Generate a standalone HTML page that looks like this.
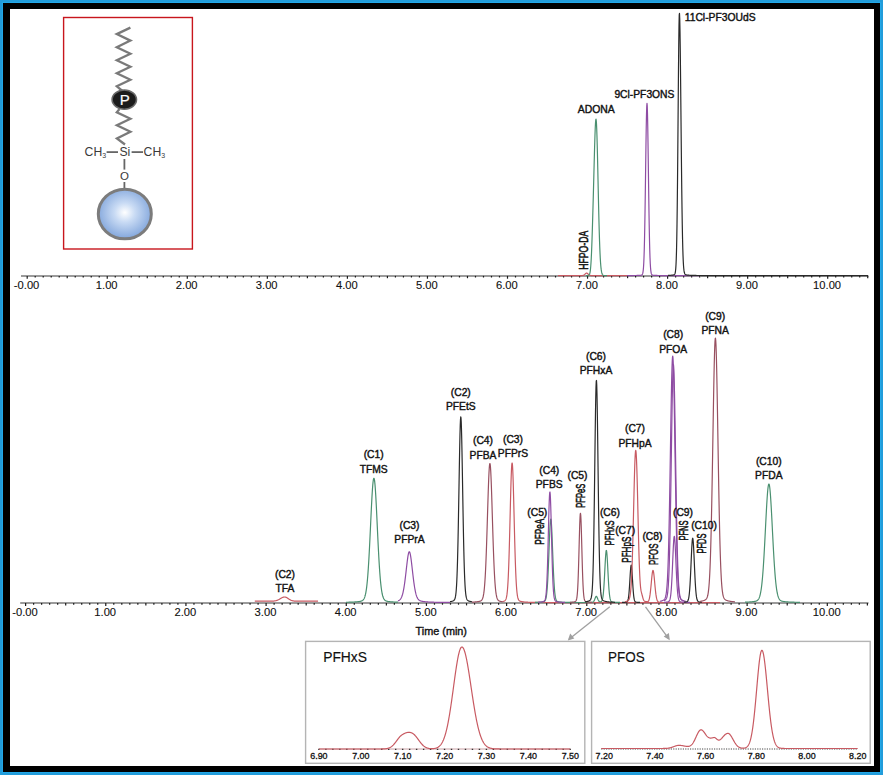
<!DOCTYPE html>
<html><head><meta charset="utf-8"><style>
html,body{margin:0;padding:0;}
body{width:883px;height:775px;position:relative;overflow:hidden;background:#229cda;font-family:"Liberation Sans",sans-serif;}
#hl{position:absolute;left:2px;top:2px;width:879px;height:771px;background:#22a8e8;}
#blk{position:absolute;left:3px;top:3px;width:877px;height:769px;background:#000;}
#wht{position:absolute;left:10px;top:9px;width:864px;height:757px;background:#fff;}
</style></head><body><div id="hl"></div><div id="blk"></div><div id="wht"></div>
<svg width="883" height="775" viewBox="0 0 883 775" style="position:absolute;left:0;top:0" font-family="&quot;Liberation Sans&quot;, sans-serif">
<line x1="21" y1="275.9" x2="868.5" y2="275.9" stroke="#7a7a7a" stroke-width="1.5"/>
<line x1="27.20" y1="275.9" x2="27.20" y2="278.7" stroke="#1a1a1a" stroke-width="1.2"/>
<line x1="35.20" y1="275.9" x2="35.20" y2="277.5" stroke="#1a1a1a" stroke-width="1.2"/>
<line x1="43.21" y1="275.9" x2="43.21" y2="277.5" stroke="#1a1a1a" stroke-width="1.2"/>
<line x1="51.22" y1="275.9" x2="51.22" y2="277.5" stroke="#1a1a1a" stroke-width="1.2"/>
<line x1="59.22" y1="275.9" x2="59.22" y2="277.5" stroke="#1a1a1a" stroke-width="1.2"/>
<line x1="67.22" y1="275.9" x2="67.22" y2="278.2" stroke="#1a1a1a" stroke-width="1.2"/>
<line x1="75.23" y1="275.9" x2="75.23" y2="277.5" stroke="#1a1a1a" stroke-width="1.2"/>
<line x1="83.23" y1="275.9" x2="83.23" y2="277.5" stroke="#1a1a1a" stroke-width="1.2"/>
<line x1="91.24" y1="275.9" x2="91.24" y2="277.5" stroke="#1a1a1a" stroke-width="1.2"/>
<line x1="99.25" y1="275.9" x2="99.25" y2="277.5" stroke="#1a1a1a" stroke-width="1.2"/>
<line x1="107.25" y1="275.9" x2="107.25" y2="278.7" stroke="#1a1a1a" stroke-width="1.2"/>
<line x1="115.26" y1="275.9" x2="115.26" y2="277.5" stroke="#1a1a1a" stroke-width="1.2"/>
<line x1="123.26" y1="275.9" x2="123.26" y2="277.5" stroke="#1a1a1a" stroke-width="1.2"/>
<line x1="131.26" y1="275.9" x2="131.26" y2="277.5" stroke="#1a1a1a" stroke-width="1.2"/>
<line x1="139.27" y1="275.9" x2="139.27" y2="277.5" stroke="#1a1a1a" stroke-width="1.2"/>
<line x1="147.27" y1="275.9" x2="147.27" y2="278.2" stroke="#1a1a1a" stroke-width="1.2"/>
<line x1="155.28" y1="275.9" x2="155.28" y2="277.5" stroke="#1a1a1a" stroke-width="1.2"/>
<line x1="163.28" y1="275.9" x2="163.28" y2="277.5" stroke="#1a1a1a" stroke-width="1.2"/>
<line x1="171.29" y1="275.9" x2="171.29" y2="277.5" stroke="#1a1a1a" stroke-width="1.2"/>
<line x1="179.29" y1="275.9" x2="179.29" y2="277.5" stroke="#1a1a1a" stroke-width="1.2"/>
<line x1="187.30" y1="275.9" x2="187.30" y2="278.7" stroke="#1a1a1a" stroke-width="1.2"/>
<line x1="195.30" y1="275.9" x2="195.30" y2="277.5" stroke="#1a1a1a" stroke-width="1.2"/>
<line x1="203.31" y1="275.9" x2="203.31" y2="277.5" stroke="#1a1a1a" stroke-width="1.2"/>
<line x1="211.31" y1="275.9" x2="211.31" y2="277.5" stroke="#1a1a1a" stroke-width="1.2"/>
<line x1="219.32" y1="275.9" x2="219.32" y2="277.5" stroke="#1a1a1a" stroke-width="1.2"/>
<line x1="227.32" y1="275.9" x2="227.32" y2="278.2" stroke="#1a1a1a" stroke-width="1.2"/>
<line x1="235.33" y1="275.9" x2="235.33" y2="277.5" stroke="#1a1a1a" stroke-width="1.2"/>
<line x1="243.34" y1="275.9" x2="243.34" y2="277.5" stroke="#1a1a1a" stroke-width="1.2"/>
<line x1="251.34" y1="275.9" x2="251.34" y2="277.5" stroke="#1a1a1a" stroke-width="1.2"/>
<line x1="259.35" y1="275.9" x2="259.35" y2="277.5" stroke="#1a1a1a" stroke-width="1.2"/>
<line x1="267.35" y1="275.9" x2="267.35" y2="278.7" stroke="#1a1a1a" stroke-width="1.2"/>
<line x1="275.36" y1="275.9" x2="275.36" y2="277.5" stroke="#1a1a1a" stroke-width="1.2"/>
<line x1="283.36" y1="275.9" x2="283.36" y2="277.5" stroke="#1a1a1a" stroke-width="1.2"/>
<line x1="291.37" y1="275.9" x2="291.37" y2="277.5" stroke="#1a1a1a" stroke-width="1.2"/>
<line x1="299.37" y1="275.9" x2="299.37" y2="277.5" stroke="#1a1a1a" stroke-width="1.2"/>
<line x1="307.38" y1="275.9" x2="307.38" y2="278.2" stroke="#1a1a1a" stroke-width="1.2"/>
<line x1="315.38" y1="275.9" x2="315.38" y2="277.5" stroke="#1a1a1a" stroke-width="1.2"/>
<line x1="323.38" y1="275.9" x2="323.38" y2="277.5" stroke="#1a1a1a" stroke-width="1.2"/>
<line x1="331.39" y1="275.9" x2="331.39" y2="277.5" stroke="#1a1a1a" stroke-width="1.2"/>
<line x1="339.39" y1="275.9" x2="339.39" y2="277.5" stroke="#1a1a1a" stroke-width="1.2"/>
<line x1="347.40" y1="275.9" x2="347.40" y2="278.7" stroke="#1a1a1a" stroke-width="1.2"/>
<line x1="355.41" y1="275.9" x2="355.41" y2="277.5" stroke="#1a1a1a" stroke-width="1.2"/>
<line x1="363.41" y1="275.9" x2="363.41" y2="277.5" stroke="#1a1a1a" stroke-width="1.2"/>
<line x1="371.41" y1="275.9" x2="371.41" y2="277.5" stroke="#1a1a1a" stroke-width="1.2"/>
<line x1="379.42" y1="275.9" x2="379.42" y2="277.5" stroke="#1a1a1a" stroke-width="1.2"/>
<line x1="387.42" y1="275.9" x2="387.42" y2="278.2" stroke="#1a1a1a" stroke-width="1.2"/>
<line x1="395.43" y1="275.9" x2="395.43" y2="277.5" stroke="#1a1a1a" stroke-width="1.2"/>
<line x1="403.44" y1="275.9" x2="403.44" y2="277.5" stroke="#1a1a1a" stroke-width="1.2"/>
<line x1="411.44" y1="275.9" x2="411.44" y2="277.5" stroke="#1a1a1a" stroke-width="1.2"/>
<line x1="419.44" y1="275.9" x2="419.44" y2="277.5" stroke="#1a1a1a" stroke-width="1.2"/>
<line x1="427.45" y1="275.9" x2="427.45" y2="278.7" stroke="#1a1a1a" stroke-width="1.2"/>
<line x1="435.46" y1="275.9" x2="435.46" y2="277.5" stroke="#1a1a1a" stroke-width="1.2"/>
<line x1="443.46" y1="275.9" x2="443.46" y2="277.5" stroke="#1a1a1a" stroke-width="1.2"/>
<line x1="451.47" y1="275.9" x2="451.47" y2="277.5" stroke="#1a1a1a" stroke-width="1.2"/>
<line x1="459.47" y1="275.9" x2="459.47" y2="277.5" stroke="#1a1a1a" stroke-width="1.2"/>
<line x1="467.47" y1="275.9" x2="467.47" y2="278.2" stroke="#1a1a1a" stroke-width="1.2"/>
<line x1="475.48" y1="275.9" x2="475.48" y2="277.5" stroke="#1a1a1a" stroke-width="1.2"/>
<line x1="483.49" y1="275.9" x2="483.49" y2="277.5" stroke="#1a1a1a" stroke-width="1.2"/>
<line x1="491.49" y1="275.9" x2="491.49" y2="277.5" stroke="#1a1a1a" stroke-width="1.2"/>
<line x1="499.50" y1="275.9" x2="499.50" y2="277.5" stroke="#1a1a1a" stroke-width="1.2"/>
<line x1="507.50" y1="275.9" x2="507.50" y2="278.7" stroke="#1a1a1a" stroke-width="1.2"/>
<line x1="515.50" y1="275.9" x2="515.50" y2="277.5" stroke="#1a1a1a" stroke-width="1.2"/>
<line x1="523.51" y1="275.9" x2="523.51" y2="277.5" stroke="#1a1a1a" stroke-width="1.2"/>
<line x1="531.52" y1="275.9" x2="531.52" y2="277.5" stroke="#1a1a1a" stroke-width="1.2"/>
<line x1="539.52" y1="275.9" x2="539.52" y2="277.5" stroke="#1a1a1a" stroke-width="1.2"/>
<line x1="547.52" y1="275.9" x2="547.52" y2="278.2" stroke="#1a1a1a" stroke-width="1.2"/>
<line x1="555.53" y1="275.9" x2="555.53" y2="277.5" stroke="#1a1a1a" stroke-width="1.2"/>
<line x1="563.54" y1="275.9" x2="563.54" y2="277.5" stroke="#1a1a1a" stroke-width="1.2"/>
<line x1="571.54" y1="275.9" x2="571.54" y2="277.5" stroke="#1a1a1a" stroke-width="1.2"/>
<line x1="579.55" y1="275.9" x2="579.55" y2="277.5" stroke="#1a1a1a" stroke-width="1.2"/>
<line x1="587.55" y1="275.9" x2="587.55" y2="278.7" stroke="#1a1a1a" stroke-width="1.2"/>
<line x1="595.56" y1="275.9" x2="595.56" y2="277.5" stroke="#1a1a1a" stroke-width="1.2"/>
<line x1="603.56" y1="275.9" x2="603.56" y2="277.5" stroke="#1a1a1a" stroke-width="1.2"/>
<line x1="611.57" y1="275.9" x2="611.57" y2="277.5" stroke="#1a1a1a" stroke-width="1.2"/>
<line x1="619.57" y1="275.9" x2="619.57" y2="277.5" stroke="#1a1a1a" stroke-width="1.2"/>
<line x1="627.58" y1="275.9" x2="627.58" y2="278.2" stroke="#1a1a1a" stroke-width="1.2"/>
<line x1="635.58" y1="275.9" x2="635.58" y2="277.5" stroke="#1a1a1a" stroke-width="1.2"/>
<line x1="643.59" y1="275.9" x2="643.59" y2="277.5" stroke="#1a1a1a" stroke-width="1.2"/>
<line x1="651.59" y1="275.9" x2="651.59" y2="277.5" stroke="#1a1a1a" stroke-width="1.2"/>
<line x1="659.60" y1="275.9" x2="659.60" y2="277.5" stroke="#1a1a1a" stroke-width="1.2"/>
<line x1="667.60" y1="275.9" x2="667.60" y2="278.7" stroke="#1a1a1a" stroke-width="1.2"/>
<line x1="675.61" y1="275.9" x2="675.61" y2="277.5" stroke="#1a1a1a" stroke-width="1.2"/>
<line x1="683.61" y1="275.9" x2="683.61" y2="277.5" stroke="#1a1a1a" stroke-width="1.2"/>
<line x1="691.62" y1="275.9" x2="691.62" y2="277.5" stroke="#1a1a1a" stroke-width="1.2"/>
<line x1="699.62" y1="275.9" x2="699.62" y2="277.5" stroke="#1a1a1a" stroke-width="1.2"/>
<line x1="707.62" y1="275.9" x2="707.62" y2="278.2" stroke="#1a1a1a" stroke-width="1.2"/>
<line x1="715.63" y1="275.9" x2="715.63" y2="277.5" stroke="#1a1a1a" stroke-width="1.2"/>
<line x1="723.64" y1="275.9" x2="723.64" y2="277.5" stroke="#1a1a1a" stroke-width="1.2"/>
<line x1="731.64" y1="275.9" x2="731.64" y2="277.5" stroke="#1a1a1a" stroke-width="1.2"/>
<line x1="739.65" y1="275.9" x2="739.65" y2="277.5" stroke="#1a1a1a" stroke-width="1.2"/>
<line x1="747.65" y1="275.9" x2="747.65" y2="278.7" stroke="#1a1a1a" stroke-width="1.2"/>
<line x1="755.65" y1="275.9" x2="755.65" y2="277.5" stroke="#1a1a1a" stroke-width="1.2"/>
<line x1="763.66" y1="275.9" x2="763.66" y2="277.5" stroke="#1a1a1a" stroke-width="1.2"/>
<line x1="771.67" y1="275.9" x2="771.67" y2="277.5" stroke="#1a1a1a" stroke-width="1.2"/>
<line x1="779.67" y1="275.9" x2="779.67" y2="277.5" stroke="#1a1a1a" stroke-width="1.2"/>
<line x1="787.68" y1="275.9" x2="787.68" y2="278.2" stroke="#1a1a1a" stroke-width="1.2"/>
<line x1="795.68" y1="275.9" x2="795.68" y2="277.5" stroke="#1a1a1a" stroke-width="1.2"/>
<line x1="803.69" y1="275.9" x2="803.69" y2="277.5" stroke="#1a1a1a" stroke-width="1.2"/>
<line x1="811.69" y1="275.9" x2="811.69" y2="277.5" stroke="#1a1a1a" stroke-width="1.2"/>
<line x1="819.70" y1="275.9" x2="819.70" y2="277.5" stroke="#1a1a1a" stroke-width="1.2"/>
<line x1="827.70" y1="275.9" x2="827.70" y2="278.7" stroke="#1a1a1a" stroke-width="1.2"/>
<line x1="835.71" y1="275.9" x2="835.71" y2="277.5" stroke="#1a1a1a" stroke-width="1.2"/>
<line x1="843.71" y1="275.9" x2="843.71" y2="277.5" stroke="#1a1a1a" stroke-width="1.2"/>
<line x1="851.72" y1="275.9" x2="851.72" y2="277.5" stroke="#1a1a1a" stroke-width="1.2"/>
<line x1="859.72" y1="275.9" x2="859.72" y2="277.5" stroke="#1a1a1a" stroke-width="1.2"/>
<line x1="867.73" y1="275.9" x2="867.73" y2="278.2" stroke="#1a1a1a" stroke-width="1.2"/>
<text x="26.6" y="289.2" font-size="11.2" text-anchor="middle" font-weight="normal" fill="#111" stroke="#111" stroke-width="0.12">-0.00</text>
<text x="106.7" y="289.2" font-size="11.2" text-anchor="middle" font-weight="normal" fill="#111" stroke="#111" stroke-width="0.12">1.00</text>
<text x="186.7" y="289.2" font-size="11.2" text-anchor="middle" font-weight="normal" fill="#111" stroke="#111" stroke-width="0.12">2.00</text>
<text x="266.7" y="289.2" font-size="11.2" text-anchor="middle" font-weight="normal" fill="#111" stroke="#111" stroke-width="0.12">3.00</text>
<text x="346.8" y="289.2" font-size="11.2" text-anchor="middle" font-weight="normal" fill="#111" stroke="#111" stroke-width="0.12">4.00</text>
<text x="426.8" y="289.2" font-size="11.2" text-anchor="middle" font-weight="normal" fill="#111" stroke="#111" stroke-width="0.12">5.00</text>
<text x="506.9" y="289.2" font-size="11.2" text-anchor="middle" font-weight="normal" fill="#111" stroke="#111" stroke-width="0.12">6.00</text>
<text x="587.0" y="289.2" font-size="11.2" text-anchor="middle" font-weight="normal" fill="#111" stroke="#111" stroke-width="0.12">7.00</text>
<text x="667.0" y="289.2" font-size="11.2" text-anchor="middle" font-weight="normal" fill="#111" stroke="#111" stroke-width="0.12">8.00</text>
<text x="747.0" y="289.2" font-size="11.2" text-anchor="middle" font-weight="normal" fill="#111" stroke="#111" stroke-width="0.12">9.00</text>
<text x="827.1" y="289.2" font-size="11.2" text-anchor="middle" font-weight="normal" fill="#111" stroke="#111" stroke-width="0.12">10.00</text>
<path d="M558.00,275.60 L558.25,275.60 L558.50,275.60 L558.75,275.60 L559.00,275.60 L559.25,275.60 L559.50,275.60 L559.75,275.60 L560.00,275.60 L560.25,275.60 L560.50,275.60 L560.75,275.60 L561.00,275.60 L561.25,275.60 L561.50,275.60 L561.75,275.60 L562.00,275.60 L562.25,275.60 L562.50,275.60 L562.75,275.60 L563.00,275.60 L563.25,275.60 L563.50,275.60 L563.75,275.60 L564.00,275.60 L564.25,275.60 L564.50,275.60 L564.75,275.60 L565.00,275.60 L565.25,275.60 L565.50,275.60 L565.75,275.60 L566.00,275.60 L566.25,275.60 L566.50,275.60 L566.75,275.60 L567.00,275.60 L567.25,275.60 L567.50,275.60 L567.75,275.60 L568.00,275.60 L568.25,275.60 L568.50,275.60 L568.75,275.60 L569.00,275.60 L569.25,275.60 L569.50,275.60 L569.75,275.60 L570.00,275.60 L570.25,275.60 L570.50,275.60 L570.75,275.60 L571.00,275.60 L571.25,275.60 L571.50,275.60 L571.75,275.60 L572.00,275.60 L572.25,275.60 L572.50,275.60 L572.75,275.60 L573.00,275.59 L573.25,275.59 L573.50,275.59 L573.75,275.59 L574.00,275.59 L574.25,275.59 L574.50,275.59 L574.75,275.59 L575.00,275.59 L575.25,275.59 L575.50,275.59 L575.75,275.59 L576.00,275.59 L576.25,275.59 L576.50,275.59 L576.75,275.59 L577.00,275.59 L577.25,275.59 L577.50,275.59 L577.75,275.59 L578.00,275.59 L578.25,275.59 L578.50,275.59 L578.75,275.59 L579.00,275.58 L579.25,275.58 L579.50,275.58 L579.75,275.58 L580.00,275.58 L580.25,275.58 L580.50,275.58 L580.75,275.57 L581.00,275.57 L581.25,275.56 L581.50,275.56 L581.75,275.55 L582.00,275.54 L582.25,275.52 L582.50,275.49 L582.75,275.45 L583.00,275.40 L583.25,275.33 L583.50,275.24 L583.75,275.13 L584.00,274.98 L584.25,274.81 L584.50,274.62 L584.75,274.40 L585.00,274.16 L585.25,273.92 L585.50,273.68 L585.75,273.47 L586.00,273.29 L586.25,273.17 L586.50,273.11 L586.75,273.11 L587.00,273.19 L587.25,273.32 L587.50,273.51 L587.75,273.73 L588.00,273.97 L588.25,274.21 L588.50,274.44 L588.75,274.66 L589.00,274.85 L589.25,275.02 L589.50,275.15 L589.75,275.26 L590.00,275.35 L590.25,275.41 L590.50,275.46 L590.75,275.50 L591.00,275.52 L591.25,275.54 L591.50,275.55 L591.75,275.56 L592.00,275.57 L592.25,275.57 L592.50,275.57 L592.75,275.58 L593.00,275.58 L593.25,275.58 L593.50,275.58 L593.75,275.58 L594.00,275.58 L594.25,275.58 L594.50,275.59 L594.75,275.59 L595.00,275.59 L595.25,275.59 L595.50,275.59 L595.75,275.59 L596.00,275.59 L596.25,275.59 L596.50,275.59 L596.75,275.59 L597.00,275.59 L597.25,275.59 L597.50,275.59 L597.75,275.59 L598.00,275.59 L598.25,275.59 L598.50,275.59 L598.75,275.59 L599.00,275.59 L599.25,275.59 L599.50,275.59 L599.75,275.59 L600.00,275.59 L600.25,275.59 L600.50,275.60 L600.75,275.60 L601.00,275.60 L601.25,275.60 L601.50,275.60 L601.75,275.60 L602.00,275.60 L602.25,275.60 L602.50,275.60 L602.75,275.60 L603.00,275.60 L603.25,275.60 L603.50,275.60 L603.75,275.60 L604.00,275.60 L604.25,275.60 L604.50,275.60 L604.75,275.60 L605.00,275.60 L605.25,275.60 L605.50,275.60 L605.75,275.60 L606.00,275.60 L606.25,275.60 L606.50,275.60 L606.75,275.60 L607.00,275.60 L607.25,275.60 L607.50,275.60 L607.75,275.60 L608.00,275.60 L608.25,275.60 L608.50,275.60 L608.75,275.60 L609.00,275.60 L609.25,275.60 L609.50,275.60 L609.75,275.60 L610.00,275.60 L610.25,275.60 L610.50,275.60 L610.75,275.60 L611.00,275.60 L611.25,275.60 L611.50,275.60 L611.75,275.60 L612.00,275.60 L612.25,275.60 L612.50,275.60 L612.75,275.60 L613.00,275.60 L613.25,275.60 L613.50,275.60 L613.75,275.60 L614.00,275.60 L614.25,275.60 L614.50,275.60 L614.75,275.60 L615.00,275.60 L615.25,275.60 L615.50,275.60 L615.75,275.60 L616.00,275.60 L616.25,275.60 L616.50,275.60 L616.75,275.60 L617.00,275.60 L617.25,275.60 L617.50,275.60 L617.75,275.60 L618.00,275.60 L618.25,275.60 L618.50,275.60 L618.75,275.60 L619.00,275.60 L619.25,275.60 L619.50,275.60 L619.75,275.60 L620.00,275.60 L620.25,275.60 L620.50,275.60 L620.75,275.60 L621.00,275.60 L621.25,275.60 L621.50,275.60 L621.75,275.60 L622.00,275.60 L622.25,275.60 L622.50,275.60 L622.75,275.60 L623.00,275.60 L623.25,275.60 L623.50,275.60 L623.75,275.60 L624.00,275.60 L624.25,275.60 L624.50,275.60 L624.75,275.60 L625.00,275.60 L625.25,275.60 L625.50,275.60 L625.75,275.60 L626.00,275.60 L626.25,275.60 L626.50,275.60 L626.75,275.60 L627.00,275.60" fill="none" stroke="#c85a62" stroke-width="1.2" stroke-linejoin="round"/>
<path d="M586.00,275.60 L586.25,275.60 L586.50,275.60 L586.75,275.59 L587.00,275.59 L587.25,275.58 L587.50,275.57 L587.75,275.55 L588.00,275.52 L588.25,275.48 L588.50,275.40 L588.75,275.27 L589.00,275.07 L589.25,274.77 L589.50,274.29 L589.75,273.59 L590.00,272.55 L590.25,271.08 L590.50,269.04 L590.75,266.32 L591.00,262.81 L591.25,258.43 L591.50,253.16 L591.75,247.02 L592.00,240.09 L592.25,232.50 L592.50,224.38 L592.75,215.85 L593.00,207.01 L593.25,197.92 L593.50,188.61 L593.75,179.14 L594.00,169.59 L594.25,160.08 L594.50,150.85 L594.75,142.17 L595.00,134.40 L595.25,127.89 L595.50,123.01 L595.75,120.03 L596.00,119.17 L596.25,120.53 L596.50,124.10 L596.75,129.75 L597.00,137.26 L597.25,146.33 L597.50,156.60 L597.75,167.68 L598.00,179.20 L598.25,190.77 L598.50,202.07 L598.75,212.81 L599.00,222.78 L599.25,231.84 L599.50,239.88 L599.75,246.88 L600.00,252.85 L600.25,257.85 L600.50,261.96 L600.75,265.27 L601.00,267.90 L601.25,269.94 L601.50,271.51 L601.75,272.68 L602.00,273.55 L602.25,274.18 L602.50,274.63 L602.75,274.95 L603.00,275.17 L603.25,275.32 L603.50,275.42 L603.75,275.49 L604.00,275.53 L604.25,275.56 L604.50,275.57 L604.75,275.58 L605.00,275.59 L605.25,275.59 L605.50,275.60 L605.75,275.60 L606.00,275.60 L606.25,275.60 L606.50,275.60 L606.75,275.60 L607.00,275.60" fill="none" stroke="#4a9070" stroke-width="1.2" stroke-linejoin="round"/>
<path d="M627.00,275.57 L627.25,275.56 L627.50,275.56 L627.75,275.56 L628.00,275.56 L628.25,275.56 L628.50,275.56 L628.75,275.56 L629.00,275.56 L629.25,275.56 L629.50,275.55 L629.75,275.55 L630.00,275.55 L630.25,275.55 L630.50,275.55 L630.75,275.55 L631.00,275.55 L631.25,275.54 L631.50,275.54 L631.75,275.54 L632.00,275.54 L632.25,275.54 L632.50,275.53 L632.75,275.53 L633.00,275.53 L633.25,275.53 L633.50,275.52 L633.75,275.52 L634.00,275.52 L634.25,275.51 L634.50,275.51 L634.75,275.51 L635.00,275.50 L635.25,275.50 L635.50,275.50 L635.75,275.49 L636.00,275.49 L636.25,275.48 L636.50,275.48 L636.75,275.47 L637.00,275.46 L637.25,275.46 L637.50,275.45 L637.75,275.44 L638.00,275.43 L638.25,275.42 L638.50,275.41 L638.75,275.40 L639.00,275.39 L639.25,275.38 L639.50,275.36 L639.75,275.35 L640.00,275.33 L640.25,275.31 L640.50,275.28 L640.75,275.26 L641.00,275.22 L641.25,275.17 L641.50,275.10 L641.75,274.99 L642.00,274.81 L642.25,274.51 L642.50,274.02 L642.75,273.24 L643.00,272.01 L643.25,270.11 L643.50,267.28 L643.75,263.19 L644.00,257.51 L644.25,249.88 L644.50,240.01 L644.75,227.76 L645.00,213.18 L645.25,196.58 L645.50,178.58 L645.75,160.11 L646.00,142.33 L646.25,126.57 L646.50,114.13 L646.75,106.15 L647.00,103.40 L647.25,106.15 L647.50,114.13 L647.75,126.57 L648.00,142.33 L648.25,160.11 L648.50,178.58 L648.75,196.58 L649.00,213.18 L649.25,227.76 L649.50,240.01 L649.75,249.88 L650.00,257.51 L650.25,263.19 L650.50,267.28 L650.75,270.11 L651.00,272.01 L651.25,273.24 L651.50,274.02 L651.75,274.51 L652.00,274.81 L652.25,274.99 L652.50,275.10 L652.75,275.17 L653.00,275.22 L653.25,275.26 L653.50,275.28 L653.75,275.31 L654.00,275.33 L654.25,275.35 L654.50,275.36 L654.75,275.38 L655.00,275.39 L655.25,275.40 L655.50,275.41 L655.75,275.42 L656.00,275.43 L656.25,275.44 L656.50,275.45 L656.75,275.46 L657.00,275.46 L657.25,275.47 L657.50,275.48 L657.75,275.48 L658.00,275.49 L658.25,275.49 L658.50,275.50 L658.75,275.50 L659.00,275.50 L659.25,275.51 L659.50,275.51 L659.75,275.51 L660.00,275.52 L660.25,275.52 L660.50,275.52 L660.75,275.53 L661.00,275.53 L661.25,275.53 L661.50,275.53 L661.75,275.54 L662.00,275.54 L662.25,275.54 L662.50,275.54 L662.75,275.54 L663.00,275.55 L663.25,275.55 L663.50,275.55 L663.75,275.55 L664.00,275.55 L664.25,275.55 L664.50,275.55 L664.75,275.56 L665.00,275.56 L665.25,275.56 L665.50,275.56 L665.75,275.56 L666.00,275.56 L666.25,275.56 L666.50,275.56 L666.75,275.56 L667.00,275.57 L667.25,275.57 L667.50,275.57 L667.75,275.57 L668.00,275.57 L668.25,275.57 L668.50,275.57 L668.75,275.57 L669.00,275.57 L669.25,275.57 L669.50,275.57 L669.75,275.57 L670.00,275.57 L670.25,275.57 L670.50,275.57 L670.75,275.58 L671.00,275.58 L671.25,275.58 L671.50,275.58 L671.75,275.58 L672.00,275.58 L672.25,275.58 L672.50,275.58 L672.75,275.58 L673.00,275.58 L673.25,275.58 L673.50,275.58 L673.75,275.58 L674.00,275.58 L674.25,275.58 L674.50,275.58 L674.75,275.58 L675.00,275.58 L675.25,275.58 L675.50,275.58 L675.75,275.58 L676.00,275.58 L676.25,275.58 L676.50,275.58 L676.75,275.58 L677.00,275.58 L677.25,275.58 L677.50,275.58 L677.75,275.59 L678.00,275.59 L678.25,275.59 L678.50,275.59 L678.75,275.59 L679.00,275.59 L679.25,275.59 L679.50,275.59 L679.75,275.59 L680.00,275.59 L680.25,275.59 L680.50,275.59 L680.75,275.59 L681.00,275.59 L681.25,275.59 L681.50,275.59 L681.75,275.59 L682.00,275.59 L682.25,275.59 L682.50,275.59 L682.75,275.59 L683.00,275.59 L683.25,275.59 L683.50,275.59 L683.75,275.59 L684.00,275.59 L684.25,275.59 L684.50,275.59 L684.75,275.59 L685.00,275.59 L685.25,275.59 L685.50,275.59 L685.75,275.59 L686.00,275.59 L686.25,275.59 L686.50,275.59 L686.75,275.59 L687.00,275.59 L687.25,275.59 L687.50,275.59 L687.75,275.59 L688.00,275.59 L688.25,275.59 L688.50,275.59 L688.75,275.59 L689.00,275.59 L689.25,275.59 L689.50,275.59 L689.75,275.59 L690.00,275.59 L690.25,275.59 L690.50,275.59 L690.75,275.59 L691.00,275.59 L691.25,275.59 L691.50,275.59 L691.75,275.59 L692.00,275.59 L692.25,275.59 L692.50,275.59 L692.75,275.59 L693.00,275.59 L693.25,275.59 L693.50,275.59 L693.75,275.59 L694.00,275.59 L694.25,275.59 L694.50,275.59 L694.75,275.59 L695.00,275.59 L695.25,275.59 L695.50,275.59 L695.75,275.59 L696.00,275.59 L696.25,275.59 L696.50,275.59 L696.75,275.59 L697.00,275.59 L697.25,275.59 L697.50,275.59 L697.75,275.59 L698.00,275.59 L698.25,275.59 L698.50,275.59 L698.75,275.59 L699.00,275.59 L699.25,275.59 L699.50,275.59 L699.75,275.59 L700.00,275.59" fill="none" stroke="#8e4ca3" stroke-width="1.2" stroke-linejoin="round"/>
<path d="M668.00,275.41 L668.25,275.40 L668.50,275.39 L668.75,275.38 L669.00,275.37 L669.25,275.36 L669.50,275.35 L669.75,275.34 L670.00,275.32 L670.25,275.31 L670.50,275.29 L670.75,275.27 L671.00,275.25 L671.25,275.23 L671.50,275.21 L671.75,275.19 L672.00,275.16 L672.25,275.13 L672.50,275.09 L672.75,275.06 L673.00,275.02 L673.25,274.97 L673.50,274.91 L673.75,274.84 L674.00,274.74 L674.25,274.61 L674.50,274.40 L674.75,274.06 L675.00,273.49 L675.25,272.56 L675.50,271.03 L675.75,268.59 L676.00,264.81 L676.25,259.15 L676.50,250.98 L676.75,239.67 L677.00,224.64 L677.25,205.55 L677.50,182.40 L677.75,155.70 L678.00,126.55 L678.25,96.63 L678.50,68.11 L678.75,43.41 L679.00,24.93 L679.25,14.63 L679.50,13.44 L679.75,19.44 L680.00,31.63 L680.25,49.06 L680.50,70.46 L680.75,94.39 L681.00,119.43 L681.25,144.25 L681.50,167.77 L681.75,189.17 L682.00,207.93 L682.25,223.81 L682.50,236.83 L682.75,247.16 L683.00,255.13 L683.25,261.10 L683.50,265.44 L683.75,268.53 L684.00,270.67 L684.25,272.11 L684.50,273.08 L684.75,273.71 L685.00,274.13 L685.25,274.40 L685.50,274.58 L685.75,274.71 L686.00,274.80 L686.25,274.87 L686.50,274.92 L686.75,274.97 L687.00,275.01 L687.25,275.05 L687.50,275.08 L687.75,275.11 L688.00,275.14 L688.25,275.16 L688.50,275.18 L688.75,275.20 L689.00,275.22 L689.25,275.24 L689.50,275.26 L689.75,275.27 L690.00,275.29 L690.25,275.30 L690.50,275.32 L690.75,275.33 L691.00,275.34 L691.25,275.35 L691.50,275.36 L691.75,275.37 L692.00,275.38 L692.25,275.39 L692.50,275.39 L692.75,275.40 L693.00,275.41 L693.25,275.42 L693.50,275.42 L693.75,275.43 L694.00,275.43 L694.25,275.44 L694.50,275.44 L694.75,275.45 L695.00,275.45 L695.25,275.46 L695.50,275.46 L695.75,275.47 L696.00,275.47 L696.25,275.47 L696.50,275.48 L696.75,275.48 L697.00,275.49 L697.25,275.49 L697.50,275.49 L697.75,275.49 L698.00,275.50 L698.25,275.50 L698.50,275.50 L698.75,275.50 L699.00,275.51 L699.25,275.51 L699.50,275.51 L699.75,275.51 L700.00,275.52 L700.25,275.52 L700.50,275.52 L700.75,275.52 L701.00,275.52 L701.25,275.53 L701.50,275.53 L701.75,275.53 L702.00,275.53 L702.25,275.53 L702.50,275.53 L702.75,275.53 L703.00,275.54 L703.25,275.54 L703.50,275.54 L703.75,275.54 L704.00,275.54 L704.25,275.54 L704.50,275.54 L704.75,275.54 L705.00,275.55 L705.25,275.55 L705.50,275.55 L705.75,275.55 L706.00,275.55 L706.25,275.55 L706.50,275.55 L706.75,275.55 L707.00,275.55 L707.25,275.55 L707.50,275.55 L707.75,275.56 L708.00,275.56 L708.25,275.56 L708.50,275.56 L708.75,275.56 L709.00,275.56 L709.25,275.56 L709.50,275.56 L709.75,275.56 L710.00,275.56 L710.25,275.56 L710.50,275.56 L710.75,275.56 L711.00,275.56 L711.25,275.56 L711.50,275.57 L711.75,275.57 L712.00,275.57 L712.25,275.57 L712.50,275.57 L712.75,275.57 L713.00,275.57 L713.25,275.57 L713.50,275.57 L713.75,275.57 L714.00,275.57 L714.25,275.57 L714.50,275.57 L714.75,275.57 L715.00,275.57 L715.25,275.57 L715.50,275.57 L715.75,275.57 L716.00,275.57 L716.25,275.57 L716.50,275.57 L716.75,275.57 L717.00,275.57 L717.25,275.57 L717.50,275.58 L717.75,275.58 L718.00,275.58 L718.25,275.58 L718.50,275.58 L718.75,275.58 L719.00,275.58 L719.25,275.58 L719.50,275.58 L719.75,275.58 L720.00,275.58 L720.25,275.58 L720.50,275.58 L720.75,275.58 L721.00,275.58 L721.25,275.58 L721.50,275.58 L721.75,275.58 L722.00,275.58 L722.25,275.58 L722.50,275.58 L722.75,275.58 L723.00,275.58 L723.25,275.58 L723.50,275.58 L723.75,275.58 L724.00,275.58 L724.25,275.58 L724.50,275.58 L724.75,275.58 L725.00,275.58 L725.25,275.58 L725.50,275.58 L725.75,275.58 L726.00,275.58 L726.25,275.58 L726.50,275.58 L726.75,275.58 L727.00,275.58 L727.25,275.58 L727.50,275.58 L727.75,275.58 L728.00,275.58 L728.25,275.58 L728.50,275.59 L728.75,275.59 L729.00,275.59 L729.25,275.59 L729.50,275.59 L729.75,275.59 L730.00,275.59 L730.25,275.59 L730.50,275.59 L730.75,275.59 L731.00,275.59 L731.25,275.59 L731.50,275.59 L731.75,275.59 L732.00,275.59 L732.25,275.59 L732.50,275.59 L732.75,275.59 L733.00,275.59 L733.25,275.59 L733.50,275.59 L733.75,275.59 L734.00,275.59 L734.25,275.59 L734.50,275.59 L734.75,275.59 L735.00,275.59 L735.25,275.59 L735.50,275.59 L735.75,275.59 L736.00,275.59 L736.25,275.59 L736.50,275.59 L736.75,275.59 L737.00,275.59 L737.25,275.59 L737.50,275.59 L737.75,275.59 L738.00,275.59 L738.25,275.59 L738.50,275.59 L738.75,275.59 L739.00,275.59 L739.25,275.59 L739.50,275.59 L739.75,275.59 L740.00,275.59 L740.25,275.59 L740.50,275.59 L740.75,275.59 L741.00,275.59 L741.25,275.59 L741.50,275.59 L741.75,275.59 L742.00,275.59 L742.25,275.59 L742.50,275.59 L742.75,275.59 L743.00,275.59 L743.25,275.59 L743.50,275.59 L743.75,275.59 L744.00,275.59 L744.25,275.59 L744.50,275.59 L744.75,275.59 L745.00,275.59 L745.25,275.59 L745.50,275.59 L745.75,275.59 L746.00,275.59 L746.25,275.59 L746.50,275.59 L746.75,275.59 L747.00,275.59 L747.25,275.59 L747.50,275.59 L747.75,275.59 L748.00,275.59 L748.25,275.59 L748.50,275.59 L748.75,275.59 L749.00,275.59 L749.25,275.59 L749.50,275.59 L749.75,275.59 L750.00,275.59 L750.25,275.59 L750.50,275.59 L750.75,275.59 L751.00,275.59 L751.25,275.59 L751.50,275.59 L751.75,275.59 L752.00,275.59 L752.25,275.59 L752.50,275.59 L752.75,275.59 L753.00,275.59 L753.25,275.59 L753.50,275.59 L753.75,275.59 L754.00,275.59 L754.25,275.59 L754.50,275.59 L754.75,275.59 L755.00,275.59 L755.25,275.59 L755.50,275.59 L755.75,275.59 L756.00,275.59 L756.25,275.59 L756.50,275.59 L756.75,275.59 L757.00,275.59 L757.25,275.59 L757.50,275.59 L757.75,275.59 L758.00,275.59 L758.25,275.59 L758.50,275.59 L758.75,275.59 L759.00,275.59 L759.25,275.59 L759.50,275.59 L759.75,275.59 L760.00,275.59 L760.25,275.59 L760.50,275.59 L760.75,275.59 L761.00,275.59 L761.25,275.59 L761.50,275.59 L761.75,275.59 L762.00,275.59 L762.25,275.59 L762.50,275.59 L762.75,275.59 L763.00,275.59 L763.25,275.59 L763.50,275.59 L763.75,275.59 L764.00,275.59 L764.25,275.60 L764.50,275.60 L764.75,275.60 L765.00,275.60 L765.25,275.60 L765.50,275.60 L765.75,275.60 L766.00,275.60 L766.25,275.60 L766.50,275.60 L766.75,275.60 L767.00,275.60 L767.25,275.60 L767.50,275.60 L767.75,275.60 L768.00,275.60 L768.25,275.60 L768.50,275.60 L768.75,275.60 L769.00,275.60 L769.25,275.60 L769.50,275.60 L769.75,275.60 L770.00,275.60 L770.25,275.60 L770.50,275.60 L770.75,275.60 L771.00,275.60 L771.25,275.60 L771.50,275.60 L771.75,275.60 L772.00,275.60 L772.25,275.60 L772.50,275.60 L772.75,275.60 L773.00,275.60 L773.25,275.60 L773.50,275.60 L773.75,275.60 L774.00,275.60 L774.25,275.60 L774.50,275.60 L774.75,275.60 L775.00,275.60 L775.25,275.60 L775.50,275.60 L775.75,275.60 L776.00,275.60 L776.25,275.60 L776.50,275.60 L776.75,275.60 L777.00,275.60 L777.25,275.60 L777.50,275.60 L777.75,275.60 L778.00,275.60 L778.25,275.60 L778.50,275.60 L778.75,275.60 L779.00,275.60 L779.25,275.60 L779.50,275.60 L779.75,275.60 L780.00,275.60 L780.25,275.60 L780.50,275.60 L780.75,275.60 L781.00,275.60 L781.25,275.60 L781.50,275.60 L781.75,275.60 L782.00,275.60 L782.25,275.60 L782.50,275.60 L782.75,275.60 L783.00,275.60 L783.25,275.60 L783.50,275.60 L783.75,275.60 L784.00,275.60 L784.25,275.60 L784.50,275.60 L784.75,275.60 L785.00,275.60 L785.25,275.60 L785.50,275.60 L785.75,275.60 L786.00,275.60 L786.25,275.60 L786.50,275.60 L786.75,275.60 L787.00,275.60 L787.25,275.60 L787.50,275.60 L787.75,275.60 L788.00,275.60 L788.25,275.60 L788.50,275.60 L788.75,275.60 L789.00,275.60 L789.25,275.60 L789.50,275.60 L789.75,275.60 L790.00,275.60 L790.25,275.60 L790.50,275.60 L790.75,275.60 L791.00,275.60 L791.25,275.60 L791.50,275.60 L791.75,275.60 L792.00,275.60 L792.25,275.60 L792.50,275.60 L792.75,275.60 L793.00,275.60 L793.25,275.60 L793.50,275.60 L793.75,275.60 L794.00,275.60 L794.25,275.60 L794.50,275.60 L794.75,275.60 L795.00,275.60 L795.25,275.60 L795.50,275.60 L795.75,275.60 L796.00,275.60 L796.25,275.60 L796.50,275.60 L796.75,275.60 L797.00,275.60 L797.25,275.60 L797.50,275.60 L797.75,275.60 L798.00,275.60 L798.25,275.60 L798.50,275.60 L798.75,275.60 L799.00,275.60 L799.25,275.60 L799.50,275.60 L799.75,275.60 L800.00,275.60 L800.25,275.60 L800.50,275.60 L800.75,275.60 L801.00,275.60 L801.25,275.60 L801.50,275.60 L801.75,275.60 L802.00,275.60 L802.25,275.60 L802.50,275.60 L802.75,275.60 L803.00,275.60 L803.25,275.60 L803.50,275.60 L803.75,275.60 L804.00,275.60 L804.25,275.60 L804.50,275.60 L804.75,275.60 L805.00,275.60 L805.25,275.60 L805.50,275.60 L805.75,275.60 L806.00,275.60 L806.25,275.60 L806.50,275.60 L806.75,275.60 L807.00,275.60 L807.25,275.60 L807.50,275.60 L807.75,275.60 L808.00,275.60 L808.25,275.60 L808.50,275.60 L808.75,275.60 L809.00,275.60 L809.25,275.60 L809.50,275.60 L809.75,275.60 L810.00,275.60 L810.25,275.60 L810.50,275.60 L810.75,275.60 L811.00,275.60 L811.25,275.60 L811.50,275.60 L811.75,275.60 L812.00,275.60 L812.25,275.60 L812.50,275.60 L812.75,275.60 L813.00,275.60 L813.25,275.60 L813.50,275.60 L813.75,275.60 L814.00,275.60 L814.25,275.60 L814.50,275.60 L814.75,275.60 L815.00,275.60 L815.25,275.60 L815.50,275.60 L815.75,275.60 L816.00,275.60 L816.25,275.60 L816.50,275.60 L816.75,275.60 L817.00,275.60 L817.25,275.60 L817.50,275.60 L817.75,275.60 L818.00,275.60 L818.25,275.60 L818.50,275.60 L818.75,275.60 L819.00,275.60 L819.25,275.60 L819.50,275.60 L819.75,275.60 L820.00,275.60 L820.25,275.60 L820.50,275.60 L820.75,275.60 L821.00,275.60 L821.25,275.60 L821.50,275.60 L821.75,275.60 L822.00,275.60 L822.25,275.60 L822.50,275.60 L822.75,275.60 L823.00,275.60 L823.25,275.60 L823.50,275.60 L823.75,275.60 L824.00,275.60 L824.25,275.60 L824.50,275.60 L824.75,275.60 L825.00,275.60 L825.25,275.60 L825.50,275.60 L825.75,275.60 L826.00,275.60 L826.25,275.60 L826.50,275.60 L826.75,275.60 L827.00,275.60 L827.25,275.60 L827.50,275.60 L827.75,275.60 L828.00,275.60 L828.25,275.60 L828.50,275.60 L828.75,275.60 L829.00,275.60 L829.25,275.60 L829.50,275.60 L829.75,275.60 L830.00,275.60 L830.25,275.60 L830.50,275.60 L830.75,275.60 L831.00,275.60 L831.25,275.60 L831.50,275.60 L831.75,275.60 L832.00,275.60 L832.25,275.60 L832.50,275.60 L832.75,275.60 L833.00,275.60 L833.25,275.60 L833.50,275.60 L833.75,275.60 L834.00,275.60 L834.25,275.60 L834.50,275.60 L834.75,275.60 L835.00,275.60 L835.25,275.60 L835.50,275.60 L835.75,275.60 L836.00,275.60 L836.25,275.60 L836.50,275.60 L836.75,275.60 L837.00,275.60 L837.25,275.60 L837.50,275.60 L837.75,275.60 L838.00,275.60 L838.25,275.60 L838.50,275.60 L838.75,275.60 L839.00,275.60 L839.25,275.60 L839.50,275.60 L839.75,275.60 L840.00,275.60 L840.25,275.60 L840.50,275.60 L840.75,275.60 L841.00,275.60 L841.25,275.60 L841.50,275.60 L841.75,275.60 L842.00,275.60 L842.25,275.60 L842.50,275.60 L842.75,275.60 L843.00,275.60 L843.25,275.60 L843.50,275.60 L843.75,275.60 L844.00,275.60 L844.25,275.60 L844.50,275.60 L844.75,275.60 L845.00,275.60 L845.25,275.60 L845.50,275.60 L845.75,275.60 L846.00,275.60 L846.25,275.60 L846.50,275.60 L846.75,275.60 L847.00,275.60 L847.25,275.60 L847.50,275.60 L847.75,275.60 L848.00,275.60 L848.25,275.60 L848.50,275.60 L848.75,275.60 L849.00,275.60 L849.25,275.60 L849.50,275.60 L849.75,275.60 L850.00,275.60 L850.25,275.60 L850.50,275.60 L850.75,275.60 L851.00,275.60 L851.25,275.60 L851.50,275.60 L851.75,275.60 L852.00,275.60 L852.25,275.60 L852.50,275.60 L852.75,275.60 L853.00,275.60 L853.25,275.60 L853.50,275.60 L853.75,275.60 L854.00,275.60 L854.25,275.60 L854.50,275.60 L854.75,275.60 L855.00,275.60 L855.25,275.60 L855.50,275.60 L855.75,275.60 L856.00,275.60 L856.25,275.60 L856.50,275.60 L856.75,275.60 L857.00,275.60 L857.25,275.60 L857.50,275.60 L857.75,275.60 L858.00,275.60 L858.25,275.60 L858.50,275.60 L858.75,275.60 L859.00,275.60 L859.25,275.60 L859.50,275.60 L859.75,275.60 L860.00,275.60 L860.25,275.60 L860.50,275.60 L860.75,275.60 L861.00,275.60 L861.25,275.60 L861.50,275.60 L861.75,275.60 L862.00,275.60 L862.25,275.60 L862.50,275.60 L862.75,275.60 L863.00,275.60 L863.25,275.60 L863.50,275.60 L863.75,275.60 L864.00,275.60 L864.25,275.60 L864.50,275.60 L864.75,275.60 L865.00,275.60 L865.25,275.60 L865.50,275.60 L865.75,275.60 L866.00,275.60 L866.25,275.60 L866.50,275.60 L866.75,275.60 L867.00,275.60 L867.25,275.60 L867.50,275.60 L867.75,275.60 L868.00,275.60" fill="none" stroke="#2a2a2a" stroke-width="1.2" stroke-linejoin="round"/>
<text x="596.2" y="113.3" font-size="10.3" text-anchor="middle" font-weight="normal" fill="#111" textLength="37" lengthAdjust="spacingAndGlyphs" stroke="#111" stroke-width="0.4">ADONA</text>
<text x="644.4" y="98.4" font-size="10.3" text-anchor="middle" font-weight="normal" fill="#111" textLength="60" lengthAdjust="spacingAndGlyphs" stroke="#111" stroke-width="0.4">9Cl-PF3ONS</text>
<text x="684.7" y="20.6" font-size="10.3" text-anchor="start" font-weight="normal" fill="#111" textLength="71" lengthAdjust="spacingAndGlyphs" stroke="#111" stroke-width="0.4">11Cl-PF3OUdS</text>
<text transform="translate(587.9,269.8) rotate(-90)" font-size="12.8" text-anchor="start" font-weight="normal" fill="#111" textLength="39" lengthAdjust="spacingAndGlyphs" stroke="#111" stroke-width="0.55">HFPO-DA</text>
<line x1="20.2" y1="603.1" x2="868.5" y2="603.1" stroke="#7a7a7a" stroke-width="1.5"/>
<line x1="25.60" y1="603.1" x2="25.60" y2="605.9" stroke="#1a1a1a" stroke-width="1.2"/>
<line x1="33.62" y1="603.1" x2="33.62" y2="604.7" stroke="#1a1a1a" stroke-width="1.2"/>
<line x1="41.63" y1="603.1" x2="41.63" y2="604.7" stroke="#1a1a1a" stroke-width="1.2"/>
<line x1="49.65" y1="603.1" x2="49.65" y2="604.7" stroke="#1a1a1a" stroke-width="1.2"/>
<line x1="57.67" y1="603.1" x2="57.67" y2="604.7" stroke="#1a1a1a" stroke-width="1.2"/>
<line x1="65.69" y1="603.1" x2="65.69" y2="605.4" stroke="#1a1a1a" stroke-width="1.2"/>
<line x1="73.70" y1="603.1" x2="73.70" y2="604.7" stroke="#1a1a1a" stroke-width="1.2"/>
<line x1="81.72" y1="603.1" x2="81.72" y2="604.7" stroke="#1a1a1a" stroke-width="1.2"/>
<line x1="89.74" y1="603.1" x2="89.74" y2="604.7" stroke="#1a1a1a" stroke-width="1.2"/>
<line x1="97.75" y1="603.1" x2="97.75" y2="604.7" stroke="#1a1a1a" stroke-width="1.2"/>
<line x1="105.77" y1="603.1" x2="105.77" y2="605.9" stroke="#1a1a1a" stroke-width="1.2"/>
<line x1="113.79" y1="603.1" x2="113.79" y2="604.7" stroke="#1a1a1a" stroke-width="1.2"/>
<line x1="121.80" y1="603.1" x2="121.80" y2="604.7" stroke="#1a1a1a" stroke-width="1.2"/>
<line x1="129.82" y1="603.1" x2="129.82" y2="604.7" stroke="#1a1a1a" stroke-width="1.2"/>
<line x1="137.84" y1="603.1" x2="137.84" y2="604.7" stroke="#1a1a1a" stroke-width="1.2"/>
<line x1="145.85" y1="603.1" x2="145.85" y2="605.4" stroke="#1a1a1a" stroke-width="1.2"/>
<line x1="153.87" y1="603.1" x2="153.87" y2="604.7" stroke="#1a1a1a" stroke-width="1.2"/>
<line x1="161.89" y1="603.1" x2="161.89" y2="604.7" stroke="#1a1a1a" stroke-width="1.2"/>
<line x1="169.91" y1="603.1" x2="169.91" y2="604.7" stroke="#1a1a1a" stroke-width="1.2"/>
<line x1="177.92" y1="603.1" x2="177.92" y2="604.7" stroke="#1a1a1a" stroke-width="1.2"/>
<line x1="185.94" y1="603.1" x2="185.94" y2="605.9" stroke="#1a1a1a" stroke-width="1.2"/>
<line x1="193.96" y1="603.1" x2="193.96" y2="604.7" stroke="#1a1a1a" stroke-width="1.2"/>
<line x1="201.97" y1="603.1" x2="201.97" y2="604.7" stroke="#1a1a1a" stroke-width="1.2"/>
<line x1="209.99" y1="603.1" x2="209.99" y2="604.7" stroke="#1a1a1a" stroke-width="1.2"/>
<line x1="218.01" y1="603.1" x2="218.01" y2="604.7" stroke="#1a1a1a" stroke-width="1.2"/>
<line x1="226.03" y1="603.1" x2="226.03" y2="605.4" stroke="#1a1a1a" stroke-width="1.2"/>
<line x1="234.04" y1="603.1" x2="234.04" y2="604.7" stroke="#1a1a1a" stroke-width="1.2"/>
<line x1="242.06" y1="603.1" x2="242.06" y2="604.7" stroke="#1a1a1a" stroke-width="1.2"/>
<line x1="250.08" y1="603.1" x2="250.08" y2="604.7" stroke="#1a1a1a" stroke-width="1.2"/>
<line x1="258.09" y1="603.1" x2="258.09" y2="604.7" stroke="#1a1a1a" stroke-width="1.2"/>
<line x1="266.11" y1="603.1" x2="266.11" y2="605.9" stroke="#1a1a1a" stroke-width="1.2"/>
<line x1="274.13" y1="603.1" x2="274.13" y2="604.7" stroke="#1a1a1a" stroke-width="1.2"/>
<line x1="282.14" y1="603.1" x2="282.14" y2="604.7" stroke="#1a1a1a" stroke-width="1.2"/>
<line x1="290.16" y1="603.1" x2="290.16" y2="604.7" stroke="#1a1a1a" stroke-width="1.2"/>
<line x1="298.18" y1="603.1" x2="298.18" y2="604.7" stroke="#1a1a1a" stroke-width="1.2"/>
<line x1="306.20" y1="603.1" x2="306.20" y2="605.4" stroke="#1a1a1a" stroke-width="1.2"/>
<line x1="314.21" y1="603.1" x2="314.21" y2="604.7" stroke="#1a1a1a" stroke-width="1.2"/>
<line x1="322.23" y1="603.1" x2="322.23" y2="604.7" stroke="#1a1a1a" stroke-width="1.2"/>
<line x1="330.25" y1="603.1" x2="330.25" y2="604.7" stroke="#1a1a1a" stroke-width="1.2"/>
<line x1="338.26" y1="603.1" x2="338.26" y2="604.7" stroke="#1a1a1a" stroke-width="1.2"/>
<line x1="346.28" y1="603.1" x2="346.28" y2="605.9" stroke="#1a1a1a" stroke-width="1.2"/>
<line x1="354.30" y1="603.1" x2="354.30" y2="604.7" stroke="#1a1a1a" stroke-width="1.2"/>
<line x1="362.31" y1="603.1" x2="362.31" y2="604.7" stroke="#1a1a1a" stroke-width="1.2"/>
<line x1="370.33" y1="603.1" x2="370.33" y2="604.7" stroke="#1a1a1a" stroke-width="1.2"/>
<line x1="378.35" y1="603.1" x2="378.35" y2="604.7" stroke="#1a1a1a" stroke-width="1.2"/>
<line x1="386.37" y1="603.1" x2="386.37" y2="605.4" stroke="#1a1a1a" stroke-width="1.2"/>
<line x1="394.38" y1="603.1" x2="394.38" y2="604.7" stroke="#1a1a1a" stroke-width="1.2"/>
<line x1="402.40" y1="603.1" x2="402.40" y2="604.7" stroke="#1a1a1a" stroke-width="1.2"/>
<line x1="410.42" y1="603.1" x2="410.42" y2="604.7" stroke="#1a1a1a" stroke-width="1.2"/>
<line x1="418.43" y1="603.1" x2="418.43" y2="604.7" stroke="#1a1a1a" stroke-width="1.2"/>
<line x1="426.45" y1="603.1" x2="426.45" y2="605.9" stroke="#1a1a1a" stroke-width="1.2"/>
<line x1="434.47" y1="603.1" x2="434.47" y2="604.7" stroke="#1a1a1a" stroke-width="1.2"/>
<line x1="442.48" y1="603.1" x2="442.48" y2="604.7" stroke="#1a1a1a" stroke-width="1.2"/>
<line x1="450.50" y1="603.1" x2="450.50" y2="604.7" stroke="#1a1a1a" stroke-width="1.2"/>
<line x1="458.52" y1="603.1" x2="458.52" y2="604.7" stroke="#1a1a1a" stroke-width="1.2"/>
<line x1="466.54" y1="603.1" x2="466.54" y2="605.4" stroke="#1a1a1a" stroke-width="1.2"/>
<line x1="474.55" y1="603.1" x2="474.55" y2="604.7" stroke="#1a1a1a" stroke-width="1.2"/>
<line x1="482.57" y1="603.1" x2="482.57" y2="604.7" stroke="#1a1a1a" stroke-width="1.2"/>
<line x1="490.59" y1="603.1" x2="490.59" y2="604.7" stroke="#1a1a1a" stroke-width="1.2"/>
<line x1="498.60" y1="603.1" x2="498.60" y2="604.7" stroke="#1a1a1a" stroke-width="1.2"/>
<line x1="506.62" y1="603.1" x2="506.62" y2="605.9" stroke="#1a1a1a" stroke-width="1.2"/>
<line x1="514.64" y1="603.1" x2="514.64" y2="604.7" stroke="#1a1a1a" stroke-width="1.2"/>
<line x1="522.65" y1="603.1" x2="522.65" y2="604.7" stroke="#1a1a1a" stroke-width="1.2"/>
<line x1="530.67" y1="603.1" x2="530.67" y2="604.7" stroke="#1a1a1a" stroke-width="1.2"/>
<line x1="538.69" y1="603.1" x2="538.69" y2="604.7" stroke="#1a1a1a" stroke-width="1.2"/>
<line x1="546.71" y1="603.1" x2="546.71" y2="605.4" stroke="#1a1a1a" stroke-width="1.2"/>
<line x1="554.72" y1="603.1" x2="554.72" y2="604.7" stroke="#1a1a1a" stroke-width="1.2"/>
<line x1="562.74" y1="603.1" x2="562.74" y2="604.7" stroke="#1a1a1a" stroke-width="1.2"/>
<line x1="570.76" y1="603.1" x2="570.76" y2="604.7" stroke="#1a1a1a" stroke-width="1.2"/>
<line x1="578.77" y1="603.1" x2="578.77" y2="604.7" stroke="#1a1a1a" stroke-width="1.2"/>
<line x1="586.79" y1="603.1" x2="586.79" y2="605.9" stroke="#1a1a1a" stroke-width="1.2"/>
<line x1="594.81" y1="603.1" x2="594.81" y2="604.7" stroke="#1a1a1a" stroke-width="1.2"/>
<line x1="602.82" y1="603.1" x2="602.82" y2="604.7" stroke="#1a1a1a" stroke-width="1.2"/>
<line x1="610.84" y1="603.1" x2="610.84" y2="604.7" stroke="#1a1a1a" stroke-width="1.2"/>
<line x1="618.86" y1="603.1" x2="618.86" y2="604.7" stroke="#1a1a1a" stroke-width="1.2"/>
<line x1="626.88" y1="603.1" x2="626.88" y2="605.4" stroke="#1a1a1a" stroke-width="1.2"/>
<line x1="634.89" y1="603.1" x2="634.89" y2="604.7" stroke="#1a1a1a" stroke-width="1.2"/>
<line x1="642.91" y1="603.1" x2="642.91" y2="604.7" stroke="#1a1a1a" stroke-width="1.2"/>
<line x1="650.93" y1="603.1" x2="650.93" y2="604.7" stroke="#1a1a1a" stroke-width="1.2"/>
<line x1="658.94" y1="603.1" x2="658.94" y2="604.7" stroke="#1a1a1a" stroke-width="1.2"/>
<line x1="666.96" y1="603.1" x2="666.96" y2="605.9" stroke="#1a1a1a" stroke-width="1.2"/>
<line x1="674.98" y1="603.1" x2="674.98" y2="604.7" stroke="#1a1a1a" stroke-width="1.2"/>
<line x1="682.99" y1="603.1" x2="682.99" y2="604.7" stroke="#1a1a1a" stroke-width="1.2"/>
<line x1="691.01" y1="603.1" x2="691.01" y2="604.7" stroke="#1a1a1a" stroke-width="1.2"/>
<line x1="699.03" y1="603.1" x2="699.03" y2="604.7" stroke="#1a1a1a" stroke-width="1.2"/>
<line x1="707.05" y1="603.1" x2="707.05" y2="605.4" stroke="#1a1a1a" stroke-width="1.2"/>
<line x1="715.06" y1="603.1" x2="715.06" y2="604.7" stroke="#1a1a1a" stroke-width="1.2"/>
<line x1="723.08" y1="603.1" x2="723.08" y2="604.7" stroke="#1a1a1a" stroke-width="1.2"/>
<line x1="731.10" y1="603.1" x2="731.10" y2="604.7" stroke="#1a1a1a" stroke-width="1.2"/>
<line x1="739.11" y1="603.1" x2="739.11" y2="604.7" stroke="#1a1a1a" stroke-width="1.2"/>
<line x1="747.13" y1="603.1" x2="747.13" y2="605.9" stroke="#1a1a1a" stroke-width="1.2"/>
<line x1="755.15" y1="603.1" x2="755.15" y2="604.7" stroke="#1a1a1a" stroke-width="1.2"/>
<line x1="763.16" y1="603.1" x2="763.16" y2="604.7" stroke="#1a1a1a" stroke-width="1.2"/>
<line x1="771.18" y1="603.1" x2="771.18" y2="604.7" stroke="#1a1a1a" stroke-width="1.2"/>
<line x1="779.20" y1="603.1" x2="779.20" y2="604.7" stroke="#1a1a1a" stroke-width="1.2"/>
<line x1="787.22" y1="603.1" x2="787.22" y2="605.4" stroke="#1a1a1a" stroke-width="1.2"/>
<line x1="795.23" y1="603.1" x2="795.23" y2="604.7" stroke="#1a1a1a" stroke-width="1.2"/>
<line x1="803.25" y1="603.1" x2="803.25" y2="604.7" stroke="#1a1a1a" stroke-width="1.2"/>
<line x1="811.27" y1="603.1" x2="811.27" y2="604.7" stroke="#1a1a1a" stroke-width="1.2"/>
<line x1="819.28" y1="603.1" x2="819.28" y2="604.7" stroke="#1a1a1a" stroke-width="1.2"/>
<line x1="827.30" y1="603.1" x2="827.30" y2="605.9" stroke="#1a1a1a" stroke-width="1.2"/>
<line x1="835.32" y1="603.1" x2="835.32" y2="604.7" stroke="#1a1a1a" stroke-width="1.2"/>
<line x1="843.33" y1="603.1" x2="843.33" y2="604.7" stroke="#1a1a1a" stroke-width="1.2"/>
<line x1="851.35" y1="603.1" x2="851.35" y2="604.7" stroke="#1a1a1a" stroke-width="1.2"/>
<line x1="859.37" y1="603.1" x2="859.37" y2="604.7" stroke="#1a1a1a" stroke-width="1.2"/>
<line x1="867.38" y1="603.1" x2="867.38" y2="605.4" stroke="#1a1a1a" stroke-width="1.2"/>
<text x="25.0" y="616.3" font-size="11.2" text-anchor="middle" font-weight="normal" fill="#111" stroke="#111" stroke-width="0.12">-0.00</text>
<text x="105.2" y="616.3" font-size="11.2" text-anchor="middle" font-weight="normal" fill="#111" stroke="#111" stroke-width="0.12">1.00</text>
<text x="185.3" y="616.3" font-size="11.2" text-anchor="middle" font-weight="normal" fill="#111" stroke="#111" stroke-width="0.12">2.00</text>
<text x="265.5" y="616.3" font-size="11.2" text-anchor="middle" font-weight="normal" fill="#111" stroke="#111" stroke-width="0.12">3.00</text>
<text x="345.7" y="616.3" font-size="11.2" text-anchor="middle" font-weight="normal" fill="#111" stroke="#111" stroke-width="0.12">4.00</text>
<text x="425.9" y="616.3" font-size="11.2" text-anchor="middle" font-weight="normal" fill="#111" stroke="#111" stroke-width="0.12">5.00</text>
<text x="506.0" y="616.3" font-size="11.2" text-anchor="middle" font-weight="normal" fill="#111" stroke="#111" stroke-width="0.12">6.00</text>
<text x="586.2" y="616.3" font-size="11.2" text-anchor="middle" font-weight="normal" fill="#111" stroke="#111" stroke-width="0.12">7.00</text>
<text x="666.4" y="616.3" font-size="11.2" text-anchor="middle" font-weight="normal" fill="#111" stroke="#111" stroke-width="0.12">8.00</text>
<text x="746.5" y="616.3" font-size="11.2" text-anchor="middle" font-weight="normal" fill="#111" stroke="#111" stroke-width="0.12">9.00</text>
<text x="826.7" y="616.3" font-size="11.2" text-anchor="middle" font-weight="normal" fill="#111" stroke="#111" stroke-width="0.12">10.00</text>
<text x="441.3" y="635" font-size="11.3" text-anchor="middle" font-weight="normal" fill="#111" textLength="51.4" lengthAdjust="spacingAndGlyphs" stroke="#111" stroke-width="0.4">Time (min)</text>
<path d="M254.80,601.20 L255.05,601.20 L255.30,601.20 L255.55,601.20 L255.80,601.20 L256.05,601.20 L256.30,601.20 L256.55,601.20 L256.80,601.20 L257.05,601.20 L257.30,601.20 L257.55,601.20 L257.80,601.20 L258.05,601.20 L258.30,601.20 L258.55,601.20 L258.80,601.20 L259.05,601.20 L259.30,601.20 L259.55,601.20 L259.80,601.20 L260.05,601.20 L260.30,601.20 L260.55,601.20 L260.80,601.20 L261.05,601.20 L261.30,601.20 L261.55,601.20 L261.80,601.20 L262.05,601.20 L262.30,601.20 L262.55,601.20 L262.80,601.20 L263.05,601.20 L263.30,601.20 L263.55,601.20 L263.80,601.20 L264.05,601.20 L264.30,601.20 L264.55,601.20 L264.80,601.20 L265.05,601.20 L265.30,601.20 L265.55,601.20 L265.80,601.20 L266.05,601.20 L266.30,601.20 L266.55,601.20 L266.80,601.20 L267.05,601.20 L267.30,601.20 L267.55,601.20 L267.80,601.20 L268.05,601.20 L268.30,601.20 L268.55,601.20 L268.80,601.20 L269.05,601.19 L269.30,601.19 L269.55,601.19 L269.80,601.19 L270.05,601.19 L270.30,601.19 L270.55,601.18 L270.80,601.18 L271.05,601.17 L271.30,601.17 L271.55,601.16 L271.80,601.16 L272.05,601.15 L272.30,601.14 L272.55,601.13 L272.80,601.11 L273.05,601.10 L273.30,601.08 L273.55,601.06 L273.80,601.03 L274.05,601.01 L274.30,600.98 L274.55,600.94 L274.80,600.91 L275.05,600.86 L275.30,600.82 L275.55,600.77 L275.80,600.71 L276.05,600.65 L276.30,600.58 L276.55,600.50 L276.80,600.42 L277.05,600.34 L277.30,600.24 L277.55,600.14 L277.80,600.03 L278.05,599.92 L278.30,599.80 L278.55,599.68 L278.80,599.55 L279.05,599.41 L279.30,599.27 L279.55,599.13 L279.80,598.98 L280.05,598.83 L280.30,598.68 L280.55,598.53 L280.80,598.39 L281.05,598.24 L281.30,598.09 L281.55,597.95 L281.80,597.82 L282.05,597.69 L282.30,597.57 L282.55,597.46 L282.80,597.36 L283.05,597.27 L283.30,597.19 L283.55,597.13 L283.80,597.07 L284.05,597.04 L284.30,597.01 L284.55,597.00 L284.80,597.01 L285.05,597.03 L285.30,597.07 L285.55,597.13 L285.80,597.21 L286.05,597.30 L286.30,597.41 L286.55,597.53 L286.80,597.67 L287.05,597.81 L287.30,597.96 L287.55,598.12 L287.80,598.29 L288.05,598.46 L288.30,598.63 L288.55,598.80 L288.80,598.97 L289.05,599.13 L289.30,599.30 L289.55,599.45 L289.80,599.60 L290.05,599.75 L290.30,599.89 L290.55,600.02 L290.80,600.14 L291.05,600.25 L291.30,600.36 L291.55,600.45 L291.80,600.54 L292.05,600.62 L292.30,600.70 L292.55,600.76 L292.80,600.82 L293.05,600.87 L293.30,600.92 L293.55,600.96 L293.80,601.00 L294.05,601.03 L294.30,601.06 L294.55,601.08 L294.80,601.10 L295.05,601.12 L295.30,601.13 L295.55,601.14 L295.80,601.15 L296.05,601.16 L296.30,601.17 L296.55,601.17 L296.80,601.18 L297.05,601.18 L297.30,601.19 L297.55,601.19 L297.80,601.19 L298.05,601.19 L298.30,601.19 L298.55,601.20 L298.80,601.20 L299.05,601.20 L299.30,601.20 L299.55,601.20 L299.80,601.20 L300.05,601.20 L300.30,601.20 L300.55,601.20 L300.80,601.20 L301.05,601.20 L301.30,601.20 L301.55,601.20 L301.80,601.20 L302.05,601.20 L302.30,601.20 L302.55,601.20 L302.80,601.20 L303.05,601.20 L303.30,601.20 L303.55,601.20 L303.80,601.20 L304.05,601.20 L304.30,601.20 L304.55,601.20 L304.80,601.20 L305.05,601.20 L305.30,601.20 L305.55,601.20 L305.80,601.20 L306.05,601.20 L306.30,601.20 L306.55,601.20 L306.80,601.20 L307.05,601.20 L307.30,601.20 L307.55,601.20 L307.80,601.20 L308.05,601.20 L308.30,601.20 L308.55,601.20 L308.80,601.20 L309.05,601.20 L309.30,601.20 L309.55,601.20 L309.80,601.20 L310.05,601.20 L310.30,601.20 L310.55,601.20 L310.80,601.20 L311.05,601.20 L311.30,601.20 L311.55,601.20 L311.80,601.20 L312.05,601.20 L312.30,601.20 L312.55,601.20 L312.80,601.20 L313.05,601.20 L313.30,601.20 L313.55,601.20 L313.80,601.20 L314.05,601.20 L314.30,601.20 L314.55,601.20 L314.80,601.20 L315.05,601.20 L315.30,601.20 L315.55,601.20 L315.80,601.20 L316.05,601.20 L316.30,601.20 L316.55,601.20 L316.80,601.20 L317.05,601.20 L317.30,601.20 L317.55,601.20 L317.80,601.20 L318.05,601.20" fill="none" stroke="#c85a62" stroke-width="1.2" stroke-linejoin="round"/>
<path d="M346.00,602.29 L346.25,602.29 L346.50,602.28 L346.75,602.28 L347.00,602.27 L347.25,602.26 L347.50,602.26 L347.75,602.25 L348.00,602.24 L348.25,602.24 L348.50,602.23 L348.75,602.22 L349.00,602.22 L349.25,602.21 L349.50,602.20 L349.75,602.19 L350.00,602.18 L350.25,602.17 L350.50,602.17 L350.75,602.16 L351.00,602.15 L351.25,602.14 L351.50,602.13 L351.75,602.12 L352.00,602.11 L352.25,602.10 L352.50,602.08 L352.75,602.07 L353.00,602.06 L353.25,602.05 L353.50,602.03 L353.75,602.02 L354.00,602.01 L354.25,601.99 L354.50,601.98 L354.75,601.96 L355.00,601.94 L355.25,601.93 L355.50,601.91 L355.75,601.89 L356.00,601.87 L356.25,601.85 L356.50,601.83 L356.75,601.81 L357.00,601.79 L357.25,601.77 L357.50,601.74 L357.75,601.71 L358.00,601.69 L358.25,601.66 L358.50,601.63 L358.75,601.60 L359.00,601.56 L359.25,601.53 L359.50,601.49 L359.75,601.45 L360.00,601.40 L360.25,601.35 L360.50,601.30 L360.75,601.23 L361.00,601.16 L361.25,601.09 L361.50,601.00 L361.75,600.89 L362.00,600.77 L362.25,600.64 L362.50,600.48 L362.75,600.29 L363.00,600.07 L363.25,599.81 L363.50,599.50 L363.75,599.14 L364.00,598.72 L364.25,598.23 L364.50,597.65 L364.75,596.97 L365.00,596.19 L365.25,595.28 L365.50,594.23 L365.75,593.03 L366.00,591.66 L366.25,590.10 L366.50,588.34 L366.75,586.35 L367.00,584.14 L367.25,581.67 L367.50,578.94 L367.75,575.95 L368.00,572.67 L368.25,569.13 L368.50,565.30 L368.75,561.21 L369.00,556.85 L369.25,552.26 L369.50,547.45 L369.75,542.45 L370.00,537.29 L370.25,532.02 L370.50,526.68 L370.75,521.32 L371.00,516.00 L371.25,510.79 L371.50,505.73 L371.75,500.91 L372.00,496.38 L372.25,492.22 L372.50,488.50 L372.75,485.26 L373.00,482.59 L373.25,480.51 L373.50,479.08 L373.75,478.32 L374.00,478.26 L374.25,478.88 L374.50,480.17 L374.75,482.12 L375.00,484.68 L375.25,487.81 L375.50,491.44 L375.75,495.52 L376.00,499.98 L376.25,504.75 L376.50,509.76 L376.75,514.95 L377.00,520.25 L377.25,525.61 L377.50,530.95 L377.75,536.24 L378.00,541.43 L378.25,546.46 L378.50,551.31 L378.75,555.95 L379.00,560.36 L379.25,564.50 L379.50,568.38 L379.75,571.99 L380.00,575.31 L380.25,578.36 L380.50,581.14 L380.75,583.66 L381.00,585.93 L381.25,587.96 L381.50,589.76 L381.75,591.36 L382.00,592.77 L382.25,594.01 L382.50,595.08 L382.75,596.02 L383.00,596.82 L383.25,597.52 L383.50,598.12 L383.75,598.63 L384.00,599.06 L384.25,599.43 L384.50,599.75 L384.75,600.02 L385.00,600.25 L385.25,600.44 L385.50,600.61 L385.75,600.75 L386.00,600.87 L386.25,600.98 L386.50,601.07 L386.75,601.15 L387.00,601.22 L387.25,601.28 L387.50,601.34 L387.75,601.39 L388.00,601.44 L388.25,601.48 L388.50,601.52 L388.75,601.56 L389.00,601.59 L389.25,601.62 L389.50,601.65 L389.75,601.68 L390.00,601.71 L390.25,601.74 L390.50,601.76 L390.75,601.78 L391.00,601.81 L391.25,601.83 L391.50,601.85 L391.75,601.87 L392.00,601.89 L392.25,601.91 L392.50,601.92 L392.75,601.94 L393.00,601.96 L393.25,601.97 L393.50,601.99 L393.75,602.00 L394.00,602.02 L394.25,602.03 L394.50,602.04 L394.75,602.06 L395.00,602.07 L395.25,602.08 L395.50,602.09 L395.75,602.10 L396.00,602.11 L396.25,602.13 L396.50,602.14 L396.75,602.15 L397.00,602.15 L397.25,602.16 L397.50,602.17 L397.75,602.18 L398.00,602.19" fill="none" stroke="#4a9070" stroke-width="1.2" stroke-linejoin="round"/>
<path d="M398.00,600.87 L398.25,600.78 L398.50,600.67 L398.75,600.54 L399.00,600.41 L399.25,600.25 L399.50,600.07 L399.75,599.86 L400.00,599.63 L400.25,599.36 L400.50,599.06 L400.75,598.70 L401.00,598.30 L401.25,597.85 L401.50,597.33 L401.75,596.74 L402.00,596.08 L402.25,595.34 L402.50,594.50 L402.75,593.58 L403.00,592.55 L403.25,591.42 L403.50,590.18 L403.75,588.83 L404.00,587.36 L404.25,585.78 L404.50,584.10 L404.75,582.30 L405.00,580.41 L405.25,578.43 L405.50,576.37 L405.75,574.24 L406.00,572.07 L406.25,569.87 L406.50,567.67 L406.75,565.48 L407.00,563.35 L407.25,561.30 L407.50,559.36 L407.75,557.57 L408.00,555.96 L408.25,554.57 L408.50,553.44 L408.75,552.58 L409.00,552.04 L409.25,551.81 L409.50,551.90 L409.75,552.33 L410.00,553.06 L410.25,554.09 L410.50,555.38 L410.75,556.90 L411.00,558.62 L411.25,560.51 L411.50,562.52 L411.75,564.62 L412.00,566.79 L412.25,568.99 L412.50,571.19 L412.75,573.38 L413.00,575.52 L413.25,577.61 L413.50,579.63 L413.75,581.56 L414.00,583.39 L414.25,585.12 L414.50,586.74 L414.75,588.25 L415.00,589.65 L415.25,590.94 L415.50,592.11 L415.75,593.18 L416.00,594.15 L416.25,595.02 L416.50,595.79 L416.75,596.49 L417.00,597.10 L417.25,597.65 L417.50,598.13 L417.75,598.55 L418.00,598.92 L418.25,599.24 L418.50,599.53 L418.75,599.77 L419.00,599.99 L419.25,600.18 L419.50,600.35 L419.75,600.49 L420.00,600.62 L420.25,600.73 L420.50,600.83 L420.75,600.93 L421.00,601.01 L421.25,601.08 L421.50,601.15 L421.75,601.21 L422.00,601.26 L422.25,601.32 L422.50,601.36 L422.75,601.41 L423.00,601.45 L423.25,601.49 L423.50,601.53 L423.75,601.56 L424.00,601.60 L424.25,601.63 L424.50,601.66 L424.75,601.69 L425.00,601.71 L425.25,601.74 L425.50,601.76 L425.75,601.79 L426.00,601.81 L426.25,601.83 L426.50,601.85 L426.75,601.87 L427.00,601.89 L427.25,601.91 L427.50,601.93 L427.75,601.95 L428.00,601.96 L428.25,601.98 L428.50,602.00 L428.75,602.01 L429.00,602.03 L429.25,602.04 L429.50,602.05 L429.75,602.07 L430.00,602.08 L430.25,602.09 L430.50,602.10 L430.75,602.11 L431.00,602.12 L431.25,602.13 L431.50,602.14 L431.75,602.15 L432.00,602.16 L432.25,602.17 L432.50,602.18 L432.75,602.19 L433.00,602.20 L433.25,602.21 L433.50,602.21 L433.75,602.22 L434.00,602.23 L434.25,602.24 L434.50,602.24 L434.75,602.25 L435.00,602.26 L435.25,602.26 L435.50,602.27 L435.75,602.28 L436.00,602.28 L436.25,602.29 L436.50,602.29 L436.75,602.30 L437.00,602.30 L437.25,602.31 L437.50,602.31 L437.75,602.32 L438.00,602.32 L438.25,602.33 L438.50,602.33 L438.75,602.34 L439.00,602.34 L439.25,602.35 L439.50,602.35 L439.75,602.35 L440.00,602.36 L440.25,602.36 L440.50,602.37 L440.75,602.37 L441.00,602.37 L441.25,602.38 L441.50,602.38 L441.75,602.38 L442.00,602.39 L442.25,602.39 L442.50,602.39 L442.75,602.40 L443.00,602.40 L443.25,602.40 L443.50,602.40 L443.75,602.41 L444.00,602.41 L444.25,602.41 L444.50,602.42 L444.75,602.42 L445.00,602.42 L445.25,602.42 L445.50,602.43 L445.75,602.43 L446.00,602.43 L446.25,602.43 L446.50,602.43 L446.75,602.44 L447.00,602.44 L447.25,602.44 L447.50,602.44 L447.75,602.44 L448.00,602.45 L448.25,602.45 L448.50,602.45 L448.75,602.45 L449.00,602.45 L449.25,602.46 L449.50,602.46 L449.75,602.46 L450.00,602.46" fill="none" stroke="#8e4ca3" stroke-width="1.2" stroke-linejoin="round"/>
<path d="M450.00,601.71 L450.25,601.67 L450.50,601.63 L450.75,601.58 L451.00,601.53 L451.25,601.48 L451.50,601.42 L451.75,601.35 L452.00,601.29 L452.25,601.21 L452.50,601.13 L452.75,601.04 L453.00,600.93 L453.25,600.81 L453.50,600.66 L453.75,600.49 L454.00,600.27 L454.25,599.99 L454.50,599.62 L454.75,599.13 L455.00,598.47 L455.25,597.59 L455.50,596.40 L455.75,594.80 L456.00,592.70 L456.25,589.94 L456.50,586.40 L456.75,581.91 L457.00,576.33 L457.25,569.52 L457.50,561.37 L457.75,551.82 L458.00,540.89 L458.25,528.65 L458.50,515.30 L458.75,501.10 L459.00,486.44 L459.25,471.80 L459.50,457.72 L459.75,444.82 L460.00,433.72 L460.25,425.04 L460.50,419.30 L460.75,416.87 L461.00,417.92 L461.25,422.37 L461.50,429.93 L461.75,440.13 L462.00,452.38 L462.25,466.06 L462.50,480.55 L462.75,495.27 L463.00,509.70 L463.25,523.43 L463.50,536.14 L463.75,547.61 L464.00,557.72 L464.25,566.42 L464.50,573.76 L464.75,579.82 L465.00,584.73 L465.25,588.63 L465.50,591.68 L465.75,594.03 L466.00,595.81 L466.25,597.15 L466.50,598.15 L466.75,598.89 L467.00,599.44 L467.25,599.85 L467.50,600.17 L467.75,600.41 L468.00,600.60 L468.25,600.75 L468.50,600.88 L468.75,600.99 L469.00,601.09 L469.25,601.18 L469.50,601.26 L469.75,601.33 L470.00,601.39 L470.25,601.45 L470.50,601.51 L470.75,601.56 L471.00,601.61 L471.25,601.65 L471.50,601.70 L471.75,601.73 L472.00,601.77" fill="none" stroke="#2a2a2a" stroke-width="1.2" stroke-linejoin="round"/>
<path d="M472.00,602.16 L472.25,602.15 L472.50,602.13 L472.75,602.12 L473.00,602.11 L473.25,602.09 L473.50,602.08 L473.75,602.06 L474.00,602.04 L474.25,602.03 L474.50,602.01 L474.75,601.99 L475.00,601.97 L475.25,601.95 L475.50,601.93 L475.75,601.90 L476.00,601.88 L476.25,601.85 L476.50,601.83 L476.75,601.80 L477.00,601.77 L477.25,601.74 L477.50,601.70 L477.75,601.67 L478.00,601.63 L478.25,601.59 L478.50,601.55 L478.75,601.50 L479.00,601.45 L479.25,601.40 L479.50,601.33 L479.75,601.27 L480.00,601.19 L480.25,601.10 L480.50,600.99 L480.75,600.87 L481.00,600.72 L481.25,600.54 L481.50,600.32 L481.75,600.05 L482.00,599.71 L482.25,599.28 L482.50,598.75 L482.75,598.08 L483.00,597.26 L483.25,596.24 L483.50,594.98 L483.75,593.45 L484.00,591.60 L484.25,589.39 L484.50,586.75 L484.75,583.66 L485.00,580.06 L485.25,575.92 L485.50,571.21 L485.75,565.92 L486.00,560.05 L486.25,553.61 L486.50,546.65 L486.75,539.22 L487.00,531.41 L487.25,523.34 L487.50,515.12 L487.75,506.92 L488.00,498.91 L488.25,491.26 L488.50,484.18 L488.75,477.85 L489.00,472.48 L489.25,468.23 L489.50,465.25 L489.75,463.66 L490.00,463.52 L490.25,464.82 L490.50,467.53 L490.75,471.53 L491.00,476.69 L491.25,482.84 L491.50,489.79 L491.75,497.34 L492.00,505.30 L492.25,513.48 L492.50,521.70 L492.75,529.82 L493.00,537.68 L493.25,545.19 L493.50,552.26 L493.75,558.80 L494.00,564.79 L494.25,570.20 L494.50,575.02 L494.75,579.28 L495.00,582.98 L495.25,586.17 L495.50,588.89 L495.75,591.19 L496.00,593.11 L496.25,594.70 L496.50,596.00 L496.75,597.07 L497.00,597.93 L497.25,598.63 L497.50,599.18 L497.75,599.63 L498.00,599.99 L498.25,600.27 L498.50,600.50 L498.75,600.69 L499.00,600.84 L499.25,600.97 L499.50,601.08 L499.75,601.17 L500.00,601.25 L500.25,601.32 L500.50,601.38 L500.75,601.44 L501.00,601.49 L501.25,601.54 L501.50,601.58 L501.75,601.62 L502.00,601.66 L502.25,601.70 L502.50,601.73 L502.75,601.76 L503.00,601.79" fill="none" stroke="#985060" stroke-width="1.2" stroke-linejoin="round"/>
<path d="M503.00,601.50 L503.25,601.44 L503.50,601.37 L503.75,601.29 L504.00,601.20 L504.25,601.09 L504.50,600.96 L504.75,600.80 L505.00,600.59 L505.25,600.33 L505.50,599.99 L505.75,599.54 L506.00,598.95 L506.25,598.18 L506.50,597.17 L506.75,595.86 L507.00,594.18 L507.25,592.04 L507.50,589.37 L507.75,586.07 L508.00,582.05 L508.25,577.24 L508.50,571.58 L508.75,565.03 L509.00,557.61 L509.25,549.35 L509.50,540.34 L509.75,530.74 L510.00,520.74 L510.25,510.58 L510.50,500.58 L510.75,491.06 L511.00,482.38 L511.25,474.91 L511.50,469.00 L511.75,464.95 L512.00,462.98 L512.25,463.20 L512.50,465.60 L512.75,470.04 L513.00,476.29 L513.25,484.03 L513.50,492.91 L513.75,502.55 L514.00,512.61 L514.25,522.76 L514.50,532.70 L514.75,542.20 L515.00,551.06 L515.25,559.16 L515.50,566.41 L515.75,572.78 L516.00,578.26 L516.25,582.91 L516.50,586.78 L516.75,589.95 L517.00,592.51 L517.25,594.55 L517.50,596.15 L517.75,597.40 L518.00,598.35 L518.25,599.08 L518.50,599.64 L518.75,600.07 L519.00,600.39 L519.25,600.64 L519.50,600.83 L519.75,600.99 L520.00,601.12 L520.25,601.22 L520.50,601.31 L520.75,601.39 L521.00,601.45 L521.25,601.51 L521.50,601.57 L521.75,601.62 L522.00,601.67 L522.25,601.71 L522.50,601.75 L522.75,601.79 L523.00,601.82 L523.25,601.86 L523.50,601.89 L523.75,601.92 L524.00,601.94 L524.25,601.97 L524.50,601.99 L524.75,602.02 L525.00,602.04 L525.25,602.06 L525.50,602.08 L525.75,602.10 L526.00,602.11 L526.25,602.13 L526.50,602.15 L526.75,602.16 L527.00,602.18 L527.25,602.19 L527.50,602.20 L527.75,602.21 L528.00,602.23 L528.25,602.24 L528.50,602.25 L528.75,602.26 L529.00,602.27 L529.25,602.28 L529.50,602.29 L529.75,602.30 L530.00,602.30 L530.25,602.31 L530.50,602.32 L530.75,602.33 L531.00,602.33 L531.25,602.34 L531.50,602.35 L531.75,602.35 L532.00,602.36 L532.25,602.37 L532.50,602.37 L532.75,602.38 L533.00,602.38 L533.25,602.39 L533.50,602.39 L533.75,602.40 L534.00,602.40 L534.25,602.41 L534.50,602.41 L534.75,602.41 L535.00,602.42 L535.25,602.42 L535.50,602.43 L535.75,602.43 L536.00,602.43 L536.25,602.44 L536.50,602.44 L536.75,602.44 L537.00,602.45 L537.25,602.45 L537.50,602.45 L537.75,602.45 L538.00,602.46 L538.25,602.46 L538.50,602.46 L538.75,602.47 L539.00,602.47 L539.25,602.47 L539.50,602.47 L539.75,602.47 L540.00,602.48 L540.25,602.48 L540.50,602.48 L540.75,602.48 L541.00,602.49 L541.25,602.49 L541.50,602.49 L541.75,602.49 L542.00,602.49 L542.25,602.49 L542.50,602.50 L542.75,602.50 L543.00,602.50 L543.25,602.50 L543.50,602.50 L543.75,602.50 L544.00,602.51 L544.25,602.51 L544.50,602.51 L544.75,602.51 L545.00,602.51 L545.25,602.51 L545.50,602.51 L545.75,602.52 L546.00,602.52 L546.25,602.52 L546.50,602.52 L546.75,602.52 L547.00,602.52 L547.25,602.52 L547.50,602.52 L547.75,602.52 L548.00,602.53 L548.25,602.53 L548.50,602.53 L548.75,602.53 L549.00,602.53 L549.25,602.53 L549.50,602.53 L549.75,602.53 L550.00,602.53 L550.25,602.53 L550.50,602.53 L550.75,602.54 L551.00,602.54 L551.25,602.54 L551.50,602.54 L551.75,602.54 L552.00,602.54 L552.25,602.54 L552.50,602.54 L552.75,602.54 L553.00,602.54 L553.25,602.54 L553.50,602.54 L553.75,602.54 L554.00,602.55 L554.25,602.55 L554.50,602.55 L554.75,602.55 L555.00,602.55 L555.25,602.55 L555.50,602.55 L555.75,602.55 L556.00,602.55 L556.25,602.55 L556.50,602.55 L556.75,602.55 L557.00,602.55 L557.25,602.55 L557.50,602.55 L557.75,602.55 L558.00,602.55 L558.25,602.55 L558.50,602.56 L558.75,602.56 L559.00,602.56 L559.25,602.56 L559.50,602.56 L559.75,602.56 L560.00,602.56 L560.25,602.56 L560.50,602.56 L560.75,602.56 L561.00,602.56 L561.25,602.56 L561.50,602.56 L561.75,602.56 L562.00,602.56 L562.25,602.56 L562.50,602.56 L562.75,602.56 L563.00,602.56 L563.25,602.56 L563.50,602.56 L563.75,602.56 L564.00,602.56 L564.25,602.56 L564.50,602.56 L564.75,602.57 L565.00,602.57 L565.25,602.57 L565.50,602.57 L565.75,602.57 L566.00,602.57 L566.25,602.57 L566.50,602.57 L566.75,602.57 L567.00,602.57 L567.25,602.57 L567.50,602.57 L567.75,602.57 L568.00,602.57 L568.25,602.57 L568.50,602.57 L568.75,602.57 L569.00,602.57 L569.25,602.57 L569.50,602.57 L569.75,602.57 L570.00,602.57 L570.25,602.57 L570.50,602.57 L570.75,602.57 L571.00,602.57 L571.25,602.57 L571.50,602.57 L571.75,602.57 L572.00,602.57 L572.25,602.57 L572.50,602.57 L572.75,602.57 L573.00,602.57 L573.25,602.57 L573.50,602.57 L573.75,602.57 L574.00,602.57 L574.25,602.58 L574.50,602.58 L574.75,602.58 L575.00,602.58 L575.25,602.58 L575.50,602.58 L575.75,602.58 L576.00,602.58 L576.25,602.58 L576.50,602.58 L576.75,602.58 L577.00,602.58 L577.25,602.58 L577.50,602.58 L577.75,602.58 L578.00,602.58 L578.25,602.58 L578.50,602.58 L578.75,602.58 L579.00,602.58 L579.25,602.58 L579.50,602.58 L579.75,602.58 L580.00,602.58 L580.25,602.58 L580.50,602.58 L580.75,602.58 L581.00,602.58 L581.25,602.58 L581.50,602.58 L581.75,602.58 L582.00,602.58 L582.25,602.58 L582.50,602.58 L582.75,602.58 L583.00,602.58 L583.25,602.58 L583.50,602.58 L583.75,602.58 L584.00,602.58 L584.25,602.58 L584.50,602.58 L584.75,602.58 L585.00,602.58 L585.25,602.58 L585.50,602.58 L585.75,602.58 L586.00,602.58 L586.25,602.58 L586.50,602.58 L586.75,602.58 L587.00,602.58 L587.25,602.58 L587.50,602.58 L587.75,602.58 L588.00,602.58 L588.25,602.58 L588.50,602.58 L588.75,602.58 L589.00,602.58 L589.25,602.58 L589.50,602.58 L589.75,602.58 L590.00,602.58 L590.25,602.58 L590.50,602.58 L590.75,602.58 L591.00,602.58 L591.25,602.58 L591.50,602.58 L591.75,602.58 L592.00,602.58 L592.25,602.58 L592.50,602.59 L592.75,602.59 L593.00,602.59 L593.25,602.59 L593.50,602.59 L593.75,602.59 L594.00,602.59 L594.25,602.59 L594.50,602.59 L594.75,602.59 L595.00,602.59 L595.25,602.59 L595.50,602.59 L595.75,602.59 L596.00,602.59 L596.25,602.59 L596.50,602.59 L596.75,602.59 L597.00,602.59 L597.25,602.59 L597.50,602.59 L597.75,602.59 L598.00,602.59 L598.25,602.59 L598.50,602.59 L598.75,602.59 L599.00,602.59 L599.25,602.59 L599.50,602.59 L599.75,602.59 L600.00,602.59 L600.25,602.59 L600.50,602.59 L600.75,602.59 L601.00,602.59 L601.25,602.59 L601.50,602.59 L601.75,602.59 L602.00,602.59 L602.25,602.59 L602.50,602.59 L602.75,602.59 L603.00,602.59 L603.25,602.59 L603.50,602.59 L603.75,602.59 L604.00,602.59 L604.25,602.59 L604.50,602.59 L604.75,602.59 L605.00,602.59 L605.25,602.59 L605.50,602.59 L605.75,602.59 L606.00,602.59 L606.25,602.59 L606.50,602.59 L606.75,602.59 L607.00,602.59 L607.25,602.59 L607.50,602.59 L607.75,602.59 L608.00,602.59 L608.25,602.59 L608.50,602.59 L608.75,602.59 L609.00,602.59 L609.25,602.59 L609.50,602.59 L609.75,602.59 L610.00,602.59 L610.25,602.59 L610.50,602.59 L610.75,602.59 L611.00,602.59 L611.25,602.59 L611.50,602.59 L611.75,602.59 L612.00,602.59 L612.25,602.59 L612.50,602.59 L612.75,602.59 L613.00,602.59 L613.25,602.59 L613.50,602.59 L613.75,602.59 L614.00,602.59 L614.25,602.59 L614.50,602.59 L614.75,602.59 L615.00,602.59 L615.25,602.59 L615.50,602.59 L615.75,602.59 L616.00,602.59 L616.25,602.59 L616.50,602.59 L616.75,602.59 L617.00,602.59 L617.25,602.59 L617.50,602.59 L617.75,602.59 L618.00,602.59 L618.25,602.59 L618.50,602.59 L618.75,602.59 L619.00,602.59 L619.25,602.59 L619.50,602.59 L619.75,602.59 L620.00,602.59 L620.25,602.59 L620.50,602.59 L620.75,602.59 L621.00,602.59 L621.25,602.59 L621.50,602.59 L621.75,602.59 L622.00,602.59 L622.25,602.59 L622.50,602.59 L622.75,602.59 L623.00,602.59 L623.25,602.59 L623.50,602.59 L623.75,602.59 L624.00,602.59 L624.25,602.59 L624.50,602.59 L624.75,602.59 L625.00,602.59 L625.25,602.59 L625.50,602.59 L625.75,602.59 L626.00,602.59 L626.25,602.59 L626.50,602.59 L626.75,602.59 L627.00,602.59 L627.25,602.59 L627.50,602.59 L627.75,602.59 L628.00,602.59 L628.25,602.59 L628.50,602.59 L628.75,602.59 L629.00,602.59 L629.25,602.59 L629.50,602.59 L629.75,602.59 L630.00,602.59 L630.25,602.59 L630.50,602.59 L630.75,602.59 L631.00,602.59 L631.25,602.59 L631.50,602.59 L631.75,602.59 L632.00,602.59 L632.25,602.59 L632.50,602.59 L632.75,602.59 L633.00,602.59 L633.25,602.59 L633.50,602.59 L633.75,602.59 L634.00,602.59 L634.25,602.59 L634.50,602.59 L634.75,602.59 L635.00,602.59 L635.25,602.59 L635.50,602.59 L635.75,602.59 L636.00,602.59 L636.25,602.59 L636.50,602.59 L636.75,602.59 L637.00,602.59 L637.25,602.59 L637.50,602.59 L637.75,602.59 L638.00,602.59 L638.25,602.59 L638.50,602.59 L638.75,602.59 L639.00,602.59 L639.25,602.59 L639.50,602.59 L639.75,602.59 L640.00,602.59 L640.25,602.59 L640.50,602.59 L640.75,602.59 L641.00,602.59 L641.25,602.59 L641.50,602.59 L641.75,602.59 L642.00,602.59 L642.25,602.59 L642.50,602.59 L642.75,602.59 L643.00,602.59 L643.25,602.59 L643.50,602.59 L643.75,602.59 L644.00,602.59 L644.25,602.59 L644.50,602.59 L644.75,602.59 L645.00,602.59 L645.25,602.59 L645.50,602.59 L645.75,602.59 L646.00,602.59 L646.25,602.59 L646.50,602.59 L646.75,602.59 L647.00,602.59 L647.25,602.59 L647.50,602.59 L647.75,602.59 L648.00,602.59 L648.25,602.59 L648.50,602.59 L648.75,602.59 L649.00,602.59 L649.25,602.59 L649.50,602.59 L649.75,602.59 L650.00,602.59 L650.25,602.59 L650.50,602.59 L650.75,602.59 L651.00,602.59 L651.25,602.60 L651.50,602.60 L651.75,602.60 L652.00,602.60 L652.25,602.60 L652.50,602.60 L652.75,602.60 L653.00,602.60 L653.25,602.60 L653.50,602.60 L653.75,602.60 L654.00,602.60 L654.25,602.60 L654.50,602.60 L654.75,602.60 L655.00,602.60 L655.25,602.60 L655.50,602.60 L655.75,602.60 L656.00,602.60 L656.25,602.60 L656.50,602.60 L656.75,602.60 L657.00,602.60 L657.25,602.60 L657.50,602.60 L657.75,602.60 L658.00,602.60 L658.25,602.60 L658.50,602.60 L658.75,602.60 L659.00,602.60 L659.25,602.60 L659.50,602.60 L659.75,602.60 L660.00,602.60 L660.25,602.60 L660.50,602.60 L660.75,602.60 L661.00,602.60 L661.25,602.60 L661.50,602.60 L661.75,602.60 L662.00,602.60 L662.25,602.60 L662.50,602.60 L662.75,602.60 L663.00,602.60 L663.25,602.60 L663.50,602.60 L663.75,602.60 L664.00,602.60 L664.25,602.60 L664.50,602.60 L664.75,602.60 L665.00,602.60 L665.25,602.60 L665.50,602.60 L665.75,602.60 L666.00,602.60 L666.25,602.60 L666.50,602.60 L666.75,602.60 L667.00,602.60 L667.25,602.60 L667.50,602.60 L667.75,602.60 L668.00,602.60 L668.25,602.60 L668.50,602.60 L668.75,602.60 L669.00,602.60 L669.25,602.60 L669.50,602.60 L669.75,602.60 L670.00,602.60 L670.25,602.60 L670.50,602.60 L670.75,602.60 L671.00,602.60 L671.25,602.60 L671.50,602.60 L671.75,602.60 L672.00,602.60 L672.25,602.60 L672.50,602.60 L672.75,602.60 L673.00,602.60 L673.25,602.60 L673.50,602.60 L673.75,602.60 L674.00,602.60 L674.25,602.60 L674.50,602.60 L674.75,602.60 L675.00,602.60 L675.25,602.60 L675.50,602.60 L675.75,602.60 L676.00,602.60 L676.25,602.60 L676.50,602.60 L676.75,602.60 L677.00,602.60 L677.25,602.60 L677.50,602.60 L677.75,602.60 L678.00,602.60 L678.25,602.60 L678.50,602.60 L678.75,602.60 L679.00,602.60 L679.25,602.60 L679.50,602.60 L679.75,602.60 L680.00,602.60 L680.25,602.60 L680.50,602.60 L680.75,602.60 L681.00,602.60 L681.25,602.60 L681.50,602.60 L681.75,602.60 L682.00,602.60 L682.25,602.60 L682.50,602.60 L682.75,602.60 L683.00,602.60 L683.25,602.60 L683.50,602.60 L683.75,602.60 L684.00,602.60 L684.25,602.60 L684.50,602.60 L684.75,602.60 L685.00,602.60 L685.25,602.60 L685.50,602.60 L685.75,602.60 L686.00,602.60 L686.25,602.60 L686.50,602.60 L686.75,602.60 L687.00,602.60 L687.25,602.60 L687.50,602.60 L687.75,602.60 L688.00,602.60 L688.25,602.60 L688.50,602.60 L688.75,602.60 L689.00,602.60 L689.25,602.60 L689.50,602.60 L689.75,602.60 L690.00,602.60 L690.25,602.60 L690.50,602.60 L690.75,602.60 L691.00,602.60 L691.25,602.60 L691.50,602.60 L691.75,602.60 L692.00,602.60 L692.25,602.60 L692.50,602.60 L692.75,602.60 L693.00,602.60 L693.25,602.60 L693.50,602.60 L693.75,602.60 L694.00,602.60 L694.25,602.60 L694.50,602.60 L694.75,602.60 L695.00,602.60 L695.25,602.60 L695.50,602.60 L695.75,602.60 L696.00,602.60 L696.25,602.60 L696.50,602.60 L696.75,602.60 L697.00,602.60 L697.25,602.60 L697.50,602.60 L697.75,602.60 L698.00,602.60 L698.25,602.60 L698.50,602.60 L698.75,602.60 L699.00,602.60 L699.25,602.60 L699.50,602.60 L699.75,602.60 L700.00,602.60 L700.25,602.60 L700.50,602.60 L700.75,602.60 L701.00,602.60 L701.25,602.60 L701.50,602.60 L701.75,602.60 L702.00,602.60 L702.25,602.60 L702.50,602.60 L702.75,602.60 L703.00,602.60 L703.25,602.60 L703.50,602.60 L703.75,602.60 L704.00,602.60 L704.25,602.60 L704.50,602.60 L704.75,602.60 L705.00,602.60 L705.25,602.60 L705.50,602.60 L705.75,602.60 L706.00,602.60 L706.25,602.60 L706.50,602.60 L706.75,602.60 L707.00,602.60 L707.25,602.60 L707.50,602.60 L707.75,602.60 L708.00,602.60 L708.25,602.60 L708.50,602.60 L708.75,602.60 L709.00,602.60 L709.25,602.60 L709.50,602.60 L709.75,602.60 L710.00,602.60 L710.25,602.60 L710.50,602.60 L710.75,602.60 L711.00,602.60 L711.25,602.60 L711.50,602.60 L711.75,602.60 L712.00,602.60 L712.25,602.60 L712.50,602.60 L712.75,602.60 L713.00,602.60 L713.25,602.60 L713.50,602.60 L713.75,602.60 L714.00,602.60 L714.25,602.60 L714.50,602.60 L714.75,602.60 L715.00,602.60 L715.25,602.60 L715.50,602.60 L715.75,602.60 L716.00,602.60 L716.25,602.60 L716.50,602.60 L716.75,602.60 L717.00,602.60 L717.25,602.60 L717.50,602.60 L717.75,602.60 L718.00,602.60 L718.25,602.60 L718.50,602.60 L718.75,602.60 L719.00,602.60 L719.25,602.60 L719.50,602.60 L719.75,602.60 L720.00,602.60" fill="none" stroke="#c85a62" stroke-width="1.2" stroke-linejoin="round"/>
<path d="M535.00,602.40 L535.25,602.40 L535.50,602.39 L535.75,602.39 L536.00,602.38 L536.25,602.37 L536.50,602.36 L536.75,602.35 L537.00,602.35 L537.25,602.34 L537.50,602.33 L537.75,602.32 L538.00,602.31 L538.25,602.30 L538.50,602.28 L538.75,602.27 L539.00,602.26 L539.25,602.24 L539.50,602.23 L539.75,602.21 L540.00,602.19 L540.25,602.18 L540.50,602.16 L540.75,602.14 L541.00,602.11 L541.25,602.09 L541.50,602.06 L541.75,602.03 L542.00,602.00 L542.25,601.97 L542.50,601.93 L542.75,601.89 L543.00,601.84 L543.25,601.79 L543.50,601.72 L543.75,601.64 L544.00,601.55 L544.25,601.42 L544.50,601.25 L544.75,601.03 L545.00,600.74 L545.25,600.34 L545.50,599.80 L545.75,599.09 L546.00,598.14 L546.25,596.90 L546.50,595.30 L546.75,593.28 L547.00,590.77 L547.25,587.71 L547.50,584.04 L547.75,579.75 L548.00,574.83 L548.25,569.32 L548.50,563.31 L548.75,556.92 L549.00,550.33 L549.25,543.74 L549.50,537.40 L549.75,531.60 L550.00,526.61 L550.25,522.70 L550.50,520.12 L550.75,519.02 L551.00,519.49 L551.25,521.50 L551.50,524.90 L551.75,529.49 L552.00,535.00 L552.25,541.16 L552.50,547.68 L552.75,554.30 L553.00,560.79 L553.25,566.97 L553.50,572.69 L553.75,577.85 L554.00,582.40 L554.25,586.31 L554.50,589.61 L554.75,592.34 L555.00,594.55 L555.25,596.30 L555.50,597.68 L555.75,598.73 L556.00,599.54 L556.25,600.14 L556.50,600.59 L556.75,600.92 L557.00,601.17 L557.25,601.35 L557.50,601.49 L557.75,601.60 L558.00,601.69 L558.25,601.76 L558.50,601.82 L558.75,601.87 L559.00,601.91 L559.25,601.95 L559.50,601.98 L559.75,602.02 L560.00,602.05 L560.25,602.07 L560.50,602.10 L560.75,602.12 L561.00,602.14 L561.25,602.16 L561.50,602.18 L561.75,602.20 L562.00,602.21 L562.25,602.23 L562.50,602.24 L562.75,602.26 L563.00,602.27 L563.25,602.28 L563.50,602.29 L563.75,602.31 L564.00,602.32 L564.25,602.32 L564.50,602.33 L564.75,602.34 L565.00,602.35 L565.25,602.36 L565.50,602.37 L565.75,602.37 L566.00,602.38 L566.25,602.39 L566.50,602.39 L566.75,602.40 L567.00,602.40 L567.25,602.41 L567.50,602.41 L567.75,602.42 L568.00,602.42 L568.25,602.43 L568.50,602.43 L568.75,602.43 L569.00,602.44 L569.25,602.44 L569.50,602.44 L569.75,602.45 L570.00,602.45 L570.25,602.45 L570.50,602.46 L570.75,602.46 L571.00,602.46 L571.25,602.46 L571.50,602.47 L571.75,602.47 L572.00,602.47 L572.25,602.47 L572.50,602.48 L572.75,602.48 L573.00,602.48 L573.25,602.48 L573.50,602.48 L573.75,602.48 L574.00,602.49 L574.25,602.49 L574.50,602.49 L574.75,602.49 L575.00,602.49 L575.25,602.49 L575.50,602.49 L575.75,602.50 L576.00,602.50 L576.25,602.50 L576.50,602.50 L576.75,602.50 L577.00,602.50 L577.25,602.50 L577.50,602.50 L577.75,602.50 L578.00,602.50 L578.25,602.50 L578.50,602.50 L578.75,602.50 L579.00,602.50 L579.25,602.51 L579.50,602.51 L579.75,602.51 L580.00,602.51 L580.25,602.51 L580.50,602.51 L580.75,602.51 L581.00,602.51 L581.25,602.51 L581.50,602.51 L581.75,602.51 L582.00,602.51 L582.25,602.51 L582.50,602.50 L582.75,602.50 L583.00,602.50 L583.25,602.50 L583.50,602.50 L583.75,602.50 L584.00,602.50 L584.25,602.50 L584.50,602.50 L584.75,602.50 L585.00,602.50 L585.25,602.50 L585.50,602.50 L585.75,602.49 L586.00,602.49 L586.25,602.49 L586.50,602.49 L586.75,602.49 L587.00,602.49 L587.25,602.48 L587.50,602.48 L587.75,602.48 L588.00,602.48 L588.25,602.47 L588.50,602.47 L588.75,602.47 L589.00,602.46 L589.25,602.46 L589.50,602.46 L589.75,602.45 L590.00,602.45 L590.25,602.44 L590.50,602.43 L590.75,602.43 L591.00,602.42 L591.25,602.41 L591.50,602.39 L591.75,602.37 L592.00,602.35 L592.25,602.31 L592.50,602.25 L592.75,602.16 L593.00,602.04 L593.25,601.87 L593.50,601.64 L593.75,601.33 L594.00,600.94 L594.25,600.47 L594.50,599.91 L594.75,599.29 L595.00,598.64 L595.25,597.99 L595.50,597.38 L595.75,596.88 L596.00,596.53 L596.25,596.38 L596.50,596.43 L596.75,596.69 L597.00,597.11 L597.25,597.66 L597.50,598.28 L597.75,598.92 L598.00,599.53 L598.25,600.09 L598.50,600.58 L598.75,600.97 L599.00,601.28 L599.25,601.52 L599.50,601.68 L599.75,601.78 L600.00,601.83 L600.25,601.85 L600.50,601.83 L600.75,601.78 L601.00,601.68 L601.25,601.54 L601.50,601.33 L601.75,601.02 L602.00,600.57 L602.25,599.95 L602.50,599.08 L602.75,597.90 L603.00,596.35 L603.25,594.34 L603.50,591.83 L603.75,588.76 L604.00,585.15 L604.25,581.01 L604.50,576.46 L604.75,571.62 L605.00,566.71 L605.25,561.98 L605.50,557.71 L605.75,554.19 L606.00,551.71 L606.25,550.48 L606.50,550.62 L606.75,552.11 L607.00,554.82 L607.25,558.52 L607.50,562.91 L607.75,567.70 L608.00,572.62 L608.25,577.41 L608.50,581.90 L608.75,585.93 L609.00,589.44 L609.25,592.40 L609.50,594.81 L609.75,596.73 L610.00,598.20 L610.25,599.32 L610.50,600.14 L610.75,600.73 L611.00,601.15 L611.25,601.44 L611.50,601.65 L611.75,601.80 L612.00,601.90 L612.25,601.98 L612.50,602.04 L612.75,602.09 L613.00,602.13 L613.25,602.16 L613.50,602.19 L613.75,602.21 L614.00,602.24 L614.25,602.26 L614.50,602.28 L614.75,602.29 L615.00,602.31 L615.25,602.32 L615.50,602.34 L615.75,602.35 L616.00,602.36 L616.25,602.37 L616.50,602.38 L616.75,602.39 L617.00,602.40 L617.25,602.41 L617.50,602.42 L617.75,602.42 L618.00,602.43 L618.25,602.44 L618.50,602.44 L618.75,602.45 L619.00,602.45 L619.25,602.46 L619.50,602.46 L619.75,602.47 L620.00,602.47" fill="none" stroke="#4a9070" stroke-width="1.2" stroke-linejoin="round"/>
<path d="M538.00,602.27 L538.25,602.26 L538.50,602.24 L538.75,602.22 L539.00,602.21 L539.25,602.19 L539.50,602.17 L539.75,602.15 L540.00,602.13 L540.25,602.10 L540.50,602.08 L540.75,602.05 L541.00,602.02 L541.25,601.99 L541.50,601.95 L541.75,601.91 L542.00,601.87 L542.25,601.83 L542.50,601.78 L542.75,601.72 L543.00,601.65 L543.25,601.58 L543.50,601.49 L543.75,601.37 L544.00,601.23 L544.25,601.04 L544.50,600.77 L544.75,600.41 L545.00,599.89 L545.25,599.16 L545.50,598.14 L545.75,596.72 L546.00,594.79 L546.25,592.21 L546.50,588.84 L546.75,584.55 L547.00,579.21 L547.25,572.77 L547.50,565.21 L547.75,556.63 L548.00,547.20 L548.25,537.21 L548.50,527.06 L548.75,517.23 L549.00,508.28 L549.25,500.79 L549.50,495.31 L549.75,492.30 L550.00,492.02 L550.25,494.50 L550.50,499.52 L550.75,506.65 L551.00,515.35 L551.25,525.05 L551.50,535.18 L551.75,545.24 L552.00,554.80 L552.25,563.58 L552.50,571.34 L552.75,578.01 L553.00,583.56 L553.25,588.06 L553.50,591.61 L553.75,594.33 L554.00,596.38 L554.25,597.89 L554.50,598.99 L554.75,599.77 L555.00,600.32 L555.25,600.71 L555.50,600.99 L555.75,601.19 L556.00,601.35 L556.25,601.47 L556.50,601.56 L556.75,601.64 L557.00,601.71 L557.25,601.76 L557.50,601.82 L557.75,601.86 L558.00,601.91 L558.25,601.95 L558.50,601.98 L558.75,602.01 L559.00,602.04 L559.25,602.07 L559.50,602.10 L559.75,602.12 L560.00,602.15 L560.25,602.17 L560.50,602.19 L560.75,602.20 L561.00,602.22 L561.25,602.24 L561.50,602.25 L561.75,602.27 L562.00,602.28 L562.25,602.29 L562.50,602.30 L562.75,602.32 L563.00,602.33 L563.25,602.34 L563.50,602.35 L563.75,602.35 L564.00,602.36 L564.25,602.37 L564.50,602.38 L564.75,602.39 L565.00,602.39" fill="none" stroke="#8e4ca3" stroke-width="1.2" stroke-linejoin="round"/>
<path d="M570.00,602.34 L570.25,602.33 L570.50,602.31 L570.75,602.30 L571.00,602.28 L571.25,602.27 L571.50,602.25 L571.75,602.23 L572.00,602.21 L572.25,602.18 L572.50,602.16 L572.75,602.13 L573.00,602.10 L573.25,602.06 L573.50,602.03 L573.75,601.99 L574.00,601.94 L574.25,601.89 L574.50,601.82 L574.75,601.75 L575.00,601.66 L575.25,601.54 L575.50,601.37 L575.75,601.14 L576.00,600.79 L576.25,600.28 L576.50,599.52 L576.75,598.41 L577.00,596.80 L577.25,594.54 L577.50,591.46 L577.75,587.39 L578.00,582.19 L578.25,575.79 L578.50,568.24 L578.75,559.70 L579.00,550.48 L579.25,541.06 L579.50,532.02 L579.75,524.06 L580.00,517.90 L580.25,514.15 L580.50,513.26 L580.75,515.33 L581.00,520.10 L581.25,527.07 L581.50,535.55 L581.75,544.82 L582.00,554.23 L582.25,563.22 L582.50,571.40 L582.75,578.50 L583.00,584.41 L583.25,589.15 L583.50,592.81 L583.75,595.54 L584.00,597.51 L584.25,598.91 L584.50,599.86 L584.75,600.51 L585.00,600.95 L585.25,601.24 L585.50,601.45 L585.75,601.59 L586.00,601.70 L586.25,601.78 L586.50,601.85 L586.75,601.91 L587.00,601.96 L587.25,602.00 L587.50,602.04 L587.75,602.08 L588.00,602.11 L588.25,602.14 L588.50,602.17 L588.75,602.19 L589.00,602.21 L589.25,602.24 L589.50,602.25 L589.75,602.27 L590.00,602.29 L590.25,602.30 L590.50,602.32 L590.75,602.33 L591.00,602.34 L591.25,602.36 L591.50,602.37 L591.75,602.38 L592.00,602.39" fill="none" stroke="#985060" stroke-width="1.2" stroke-linejoin="round"/>
<path d="M585.00,601.84 L585.25,601.81 L585.50,601.77 L585.75,601.73 L586.00,601.69 L586.25,601.65 L586.50,601.60 L586.75,601.55 L587.00,601.50 L587.25,601.44 L587.50,601.38 L587.75,601.31 L588.00,601.23 L588.25,601.15 L588.50,601.06 L588.75,600.97 L589.00,600.86 L589.25,600.73 L589.50,600.59 L589.75,600.42 L590.00,600.22 L590.25,599.96 L590.50,599.63 L590.75,599.17 L591.00,598.56 L591.25,597.69 L591.50,596.49 L591.75,594.80 L592.00,592.47 L592.25,589.29 L592.50,585.01 L592.75,579.40 L593.00,572.17 L593.25,563.10 L593.50,551.99 L593.75,538.76 L594.00,523.43 L594.25,506.20 L594.50,487.46 L594.75,467.78 L595.00,447.94 L595.25,428.86 L595.50,411.58 L595.75,397.19 L596.00,386.71 L596.25,380.96 L596.50,380.43 L596.75,385.16 L597.00,394.75 L597.25,408.44 L597.50,425.22 L597.75,444.03 L598.00,463.80 L598.25,483.57 L598.50,502.56 L598.75,520.12 L599.00,535.86 L599.25,549.52 L599.50,561.05 L599.75,570.51 L600.00,578.09 L600.25,584.01 L600.50,588.53 L600.75,591.91 L601.00,594.39 L601.25,596.19 L601.50,597.48 L601.75,598.41 L602.00,599.07 L602.25,599.55 L602.50,599.90 L602.75,600.17 L603.00,600.39 L603.25,600.56 L603.50,600.71 L603.75,600.83 L604.00,600.94 L604.25,601.04 L604.50,601.14 L604.75,601.22 L605.00,601.29 L605.25,601.36 L605.50,601.43 L605.75,601.49 L606.00,601.54 L606.25,601.59 L606.50,601.64 L606.75,601.68 L607.00,601.73 L607.25,601.76 L607.50,601.80 L607.75,601.83 L608.00,601.87 L608.25,601.90 L608.50,601.92 L608.75,601.95 L609.00,601.98 L609.25,602.00 L609.50,602.02 L609.75,602.04 L610.00,602.06 L610.25,602.08 L610.50,602.10 L610.75,602.12 L611.00,602.13 L611.25,602.15 L611.50,602.16 L611.75,602.18 L612.00,602.19 L612.25,602.20 L612.50,602.21 L612.75,602.23 L613.00,602.24 L613.25,602.25 L613.50,602.26 L613.75,602.27 L614.00,602.28 L614.25,602.28 L614.50,602.29 L614.75,602.30 L615.00,602.31" fill="none" stroke="#2a2a2a" stroke-width="1.2" stroke-linejoin="round"/>
<path d="M622.00,602.48 L622.25,602.47 L622.50,602.46 L622.75,602.45 L623.00,602.44 L623.25,602.44 L623.50,602.42 L623.75,602.41 L624.00,602.40 L624.25,602.39 L624.50,602.37 L624.75,602.35 L625.00,602.33 L625.25,602.31 L625.50,602.29 L625.75,602.26 L626.00,602.22 L626.25,602.17 L626.50,602.10 L626.75,602.00 L627.00,601.86 L627.25,601.63 L627.50,601.29 L627.75,600.78 L628.00,600.03 L628.25,598.95 L628.50,597.46 L628.75,595.47 L629.00,592.94 L629.25,589.84 L629.50,586.22 L629.75,582.21 L630.00,578.01 L630.25,573.89 L630.50,570.21 L630.75,567.32 L631.00,565.55 L631.25,565.13 L631.50,566.11 L631.75,568.36 L632.00,571.61 L632.25,575.51 L632.50,579.69 L632.75,583.85 L633.00,587.73 L633.25,591.15 L633.50,594.02 L633.75,596.33 L634.00,598.11 L634.25,599.42 L634.50,600.36 L634.75,601.01 L635.00,601.45 L635.25,601.73 L635.50,601.92 L635.75,602.05 L636.00,602.13 L636.25,602.19 L636.50,602.24 L636.75,602.27 L637.00,602.30 L637.25,602.32 L637.50,602.34 L637.75,602.36 L638.00,602.38 L638.25,602.39 L638.50,602.41 L638.75,602.42 L639.00,602.43 L639.25,602.44 L639.50,602.45 L639.75,602.46 L640.00,602.46" fill="none" stroke="#2a2a2a" stroke-width="1.2" stroke-linejoin="round"/>
<path d="M625.00,601.66 L625.25,601.61 L625.50,601.57 L625.75,601.52 L626.00,601.46 L626.25,601.40 L626.50,601.34 L626.75,601.26 L627.00,601.18 L627.25,601.09 L627.50,600.97 L627.75,600.84 L628.00,600.68 L628.25,600.47 L628.50,600.21 L628.75,599.88 L629.00,599.45 L629.25,598.90 L629.50,598.17 L629.75,597.23 L630.00,596.02 L630.25,594.48 L630.50,592.52 L630.75,590.08 L631.00,587.05 L631.25,583.37 L631.50,578.95 L631.75,573.72 L632.00,567.62 L632.25,560.64 L632.50,552.79 L632.75,544.10 L633.00,534.68 L633.25,524.66 L633.50,514.24 L633.75,503.65 L634.00,493.19 L634.25,483.17 L634.50,473.92 L634.75,465.80 L635.00,459.14 L635.25,454.22 L635.50,451.26 L635.75,450.37 L636.00,451.54 L636.25,454.69 L636.50,459.64 L636.75,466.20 L637.00,474.14 L637.25,483.27 L637.50,493.34 L637.75,504.06 L638.00,515.07 L638.25,526.01 L638.50,536.50 L638.75,546.27 L639.00,555.10 L639.25,562.89 L639.50,569.60 L639.75,575.26 L640.00,579.92 L640.25,583.65 L640.50,586.56 L640.75,588.76 L641.00,590.42 L641.25,591.68 L641.50,592.71 L641.75,593.64 L642.00,594.56 L642.25,595.51 L642.50,596.48 L642.75,597.44 L643.00,598.33 L643.25,599.11 L643.50,599.75 L643.75,600.26 L644.00,600.63 L644.25,600.90 L644.50,601.10 L644.75,601.23 L645.00,601.33 L645.25,601.41 L645.50,601.48 L645.75,601.53 L646.00,601.58 L646.25,601.63 L646.50,601.67 L646.75,601.71 L647.00,601.75 L647.25,601.78 L647.50,601.82 L647.75,601.85 L648.00,601.88" fill="none" stroke="#c85a62" stroke-width="1.2" stroke-linejoin="round"/>
<path d="M645.00,602.36 L645.25,602.35 L645.50,602.33 L645.75,602.31 L646.00,602.29 L646.25,602.26 L646.50,602.22 L646.75,602.18 L647.00,602.12 L647.25,602.04 L647.50,601.94 L647.75,601.79 L648.00,601.59 L648.25,601.31 L648.50,600.93 L648.75,600.43 L649.00,599.77 L649.25,598.92 L649.50,597.86 L649.75,596.54 L650.00,594.95 L650.25,593.08 L650.50,590.94 L650.75,588.55 L651.00,585.97 L651.25,583.27 L651.50,580.53 L651.75,577.88 L652.00,575.45 L652.25,573.37 L652.50,571.76 L652.75,570.75 L653.00,570.40 L653.25,570.75 L653.50,571.76 L653.75,573.37 L654.00,575.45 L654.25,577.88 L654.50,580.53 L654.75,583.27 L655.00,585.97 L655.25,588.55 L655.50,590.94 L655.75,593.08 L656.00,594.95 L656.25,596.54 L656.50,597.86 L656.75,598.92 L657.00,599.77 L657.25,600.43 L657.50,600.93 L657.75,601.31 L658.00,601.59 L658.25,601.79 L658.50,601.94 L658.75,602.04 L659.00,602.12 L659.25,602.18 L659.50,602.22 L659.75,602.26 L660.00,602.29 L660.25,602.31 L660.50,602.33 L660.75,602.35 L661.00,602.36 L661.25,602.37 L661.50,602.39 L661.75,602.40 L662.00,602.41" fill="none" stroke="#c85a62" stroke-width="1.2" stroke-linejoin="round"/>
<path d="M660.00,601.27 L660.25,601.22 L660.50,601.17 L660.75,601.11 L661.00,601.05 L661.25,600.98 L661.50,600.92 L661.75,600.84 L662.00,600.76 L662.25,600.67 L662.50,600.58 L662.75,600.48 L663.00,600.36 L663.25,600.23 L663.50,600.08 L663.75,599.91 L664.00,599.70 L664.25,599.45 L664.50,599.15 L664.75,598.78 L665.00,598.31 L665.25,597.71 L665.50,596.96 L665.75,596.00 L666.00,594.79 L666.25,593.26 L666.50,591.33 L666.75,588.93 L667.00,585.97 L667.25,582.33 L667.50,577.93 L667.75,572.65 L668.00,566.40 L668.25,559.09 L668.50,550.64 L668.75,541.01 L669.00,530.19 L669.25,518.21 L669.50,505.14 L669.75,491.10 L670.00,476.28 L670.25,460.92 L670.50,445.30 L670.75,429.76 L671.00,414.68 L671.25,400.47 L671.50,387.57 L671.75,376.38 L672.00,367.33 L672.25,360.76 L672.50,356.95 L672.75,356.06 L673.00,358.13 L673.25,363.07 L673.50,370.67 L673.75,380.62 L674.00,392.55 L674.25,406.02 L674.50,420.63 L674.75,435.94 L675.00,451.56 L675.25,467.11 L675.50,482.29 L675.75,496.82 L676.00,510.49 L676.25,523.14 L676.50,534.66 L676.75,545.00 L677.00,554.16 L677.25,562.14 L677.50,569.02 L677.75,574.87 L678.00,579.79 L678.25,583.87 L678.50,587.23 L678.75,589.96 L679.00,592.15 L679.25,593.91 L679.50,595.31 L679.75,596.41 L680.00,597.28 L680.25,597.97 L680.50,598.51 L680.75,598.94 L681.00,599.28 L681.25,599.56 L681.50,599.79 L681.75,599.98 L682.00,600.14 L682.25,600.28 L682.50,600.41 L682.75,600.52 L683.00,600.62 L683.25,600.71 L683.50,600.79 L683.75,600.87 L684.00,600.94 L684.25,601.01 L684.50,601.07 L684.75,601.13 L685.00,601.19 L685.25,601.24 L685.50,601.29 L685.75,601.34 L686.00,601.39" fill="none" stroke="#8e4ca3" stroke-width="1.2" stroke-linejoin="round"/>
<path d="M664.00,600.70 L664.25,600.60 L664.50,600.48 L664.75,600.35 L665.00,600.19 L665.25,600.01 L665.50,599.79 L665.75,599.53 L666.00,599.19 L666.25,598.77 L666.50,598.22 L666.75,597.51 L667.00,596.59 L667.25,595.39 L667.50,593.84 L667.75,591.85 L668.00,589.31 L668.25,586.10 L668.50,582.09 L668.75,577.16 L669.00,571.16 L669.25,563.98 L669.50,555.51 L669.75,545.68 L670.00,534.46 L670.25,521.88 L670.50,508.01 L670.75,493.03 L671.00,477.17 L671.25,460.75 L671.50,444.16 L671.75,427.85 L672.00,412.34 L672.25,398.16 L672.50,385.87 L672.75,376.00 L673.00,369.00 L673.25,365.22 L673.50,364.86 L673.75,367.72 L674.00,373.63 L674.25,382.31 L674.50,393.37 L674.75,406.36 L675.00,420.80 L675.25,436.19 L675.50,452.06 L675.75,467.99 L676.00,483.60 L676.25,498.56 L676.50,512.62 L676.75,525.59 L677.00,537.36 L677.25,547.84 L677.50,557.04 L677.75,564.99 L678.00,571.76 L678.25,577.45 L678.50,582.16 L678.75,586.01 L679.00,589.13 L679.25,591.62 L679.50,593.60 L679.75,595.15 L680.00,596.36 L680.25,597.30 L680.50,598.03 L680.75,598.60 L681.00,599.05 L681.25,599.40 L681.50,599.68 L681.75,599.91 L682.00,600.10 L682.25,600.26 L682.50,600.40 L682.75,600.52 L683.00,600.63 L683.25,600.73 L683.50,600.82 L683.75,600.90 L684.00,600.98" fill="none" stroke="#8e4ca3" stroke-width="1.2" stroke-linejoin="round"/>
<path d="M664.00,602.32 L664.25,602.31 L664.50,602.30 L664.75,602.28 L665.00,602.26 L665.25,602.25 L665.50,602.23 L665.75,602.21 L666.00,602.18 L666.25,602.16 L666.50,602.13 L666.75,602.10 L667.00,602.07 L667.25,602.03 L667.50,601.98 L667.75,601.93 L668.00,601.86 L668.25,601.78 L668.50,601.67 L668.75,601.51 L669.00,601.30 L669.25,601.01 L669.50,600.60 L669.75,600.03 L670.00,599.24 L670.25,598.17 L670.50,596.75 L670.75,594.89 L671.00,592.53 L671.25,589.59 L671.50,586.03 L671.75,581.83 L672.00,577.03 L672.25,571.70 L672.50,565.98 L672.75,560.07 L673.00,554.22 L673.25,548.71 L673.50,543.87 L673.75,540.02 L674.00,537.43 L674.25,536.33 L674.50,536.81 L674.75,538.82 L675.00,542.19 L675.25,546.68 L675.50,551.96 L675.75,557.71 L676.00,563.63 L676.25,569.45 L676.50,574.95 L676.75,579.98 L677.00,584.42 L677.25,588.24 L677.50,591.42 L677.75,594.01 L678.00,596.06 L678.25,597.65 L678.50,598.85 L678.75,599.74 L679.00,600.39 L679.25,600.86 L679.50,601.20 L679.75,601.44 L680.00,601.61 L680.25,601.74 L680.50,601.83 L680.75,601.90 L681.00,601.96 L681.25,602.01 L681.50,602.05 L681.75,602.09 L682.00,602.12 L682.25,602.15 L682.50,602.17 L682.75,602.20 L683.00,602.22 L683.25,602.24 L683.50,602.26 L683.75,602.28 L684.00,602.29 L684.25,602.31 L684.50,602.32 L684.75,602.33 L685.00,602.34 L685.25,602.36 L685.50,602.37 L685.75,602.38 L686.00,602.38 L686.25,602.39 L686.50,602.40 L686.75,602.41 L687.00,602.42 L687.25,602.42 L687.50,602.43 L687.75,602.44 L688.00,602.44 L688.25,602.45 L688.50,602.45 L688.75,602.46 L689.00,602.46 L689.25,602.47 L689.50,602.47 L689.75,602.48 L690.00,602.48" fill="none" stroke="#8e4ca3" stroke-width="1.2" stroke-linejoin="round"/>
<path d="M684.00,602.23 L684.25,602.21 L684.50,602.19 L684.75,602.16 L685.00,602.13 L685.25,602.10 L685.50,602.07 L685.75,602.03 L686.00,601.98 L686.25,601.92 L686.50,601.85 L686.75,601.76 L687.00,601.64 L687.25,601.47 L687.50,601.24 L687.75,600.91 L688.00,600.45 L688.25,599.82 L688.50,598.96 L688.75,597.79 L689.00,596.25 L689.25,594.26 L689.50,591.74 L689.75,588.65 L690.00,584.95 L690.25,580.63 L690.50,575.75 L690.75,570.40 L691.00,564.75 L691.25,558.99 L691.50,553.41 L691.75,548.28 L692.00,543.92 L692.25,540.64 L692.50,538.69 L692.75,538.23 L693.00,539.30 L693.25,541.81 L693.50,545.55 L693.75,550.25 L694.00,555.60 L694.25,561.29 L694.50,567.03 L694.75,572.59 L695.00,577.76 L695.25,582.43 L695.50,586.50 L695.75,589.96 L696.00,592.82 L696.25,595.11 L696.50,596.91 L696.75,598.30 L697.00,599.33 L697.25,600.10 L697.50,600.66 L697.75,601.05 L698.00,601.34 L698.25,601.54 L698.50,601.69 L698.75,601.80 L699.00,601.88 L699.25,601.95 L699.50,602.00 L699.75,602.04 L700.00,602.08 L700.25,602.11 L700.50,602.14 L700.75,602.17 L701.00,602.20 L701.25,602.22 L701.50,602.24 L701.75,602.26 L702.00,602.27" fill="none" stroke="#2a2a2a" stroke-width="1.2" stroke-linejoin="round"/>
<path d="M700.00,601.40 L700.25,601.36 L700.50,601.32 L700.75,601.28 L701.00,601.24 L701.25,601.19 L701.50,601.14 L701.75,601.09 L702.00,601.04 L702.25,600.98 L702.50,600.92 L702.75,600.85 L703.00,600.79 L703.25,600.71 L703.50,600.64 L703.75,600.55 L704.00,600.46 L704.25,600.37 L704.50,600.26 L704.75,600.14 L705.00,600.01 L705.25,599.86 L705.50,599.69 L705.75,599.49 L706.00,599.25 L706.25,598.97 L706.50,598.63 L706.75,598.21 L707.00,597.69 L707.25,597.05 L707.50,596.26 L707.75,595.27 L708.00,594.05 L708.25,592.55 L708.50,590.70 L708.75,588.45 L709.00,585.72 L709.25,582.43 L709.50,578.50 L709.75,573.85 L710.00,568.41 L710.25,562.08 L710.50,554.82 L710.75,546.56 L711.00,537.27 L711.25,526.94 L711.50,515.58 L711.75,503.26 L712.00,490.04 L712.25,476.07 L712.50,461.49 L712.75,446.52 L713.00,431.40 L713.25,416.39 L713.50,401.79 L713.75,387.94 L714.00,375.17 L714.25,363.80 L714.50,354.18 L714.75,346.60 L715.00,341.30 L715.25,338.47 L715.50,338.21 L715.75,340.53 L716.00,345.35 L716.25,352.49 L716.50,361.73 L716.75,372.77 L717.00,385.29 L717.25,398.95 L717.50,413.42 L717.75,428.38 L718.00,443.50 L718.25,458.52 L718.50,473.20 L718.75,487.30 L719.00,500.68 L719.25,513.19 L719.50,524.75 L719.75,535.28 L720.00,544.78 L720.25,553.25 L720.50,560.71 L720.75,567.22 L721.00,572.83 L721.25,577.63 L721.50,581.70 L721.75,585.11 L722.00,587.95 L722.25,590.29 L722.50,592.21 L722.75,593.78 L723.00,595.05 L723.25,596.08 L723.50,596.90 L723.75,597.57 L724.00,598.11 L724.25,598.55 L724.50,598.91 L724.75,599.20 L725.00,599.45 L725.25,599.65 L725.50,599.83 L725.75,599.98 L726.00,600.12 L726.25,600.24 L726.50,600.35 L726.75,600.45 L727.00,600.54 L727.25,600.62 L727.50,600.70 L727.75,600.77 L728.00,600.84 L728.25,600.91 L728.50,600.97 L728.75,601.02 L729.00,601.08 L729.25,601.13 L729.50,601.18 L729.75,601.23 L730.00,601.27 L730.25,601.31 L730.50,601.36 L730.75,601.39 L731.00,601.43 L731.25,601.47 L731.50,601.50 L731.75,601.53 L732.00,601.56 L732.25,601.59 L732.50,601.62 L732.75,601.65 L733.00,601.67 L733.25,601.70 L733.50,601.72 L733.75,601.75 L734.00,601.77 L734.25,601.79 L734.50,601.81 L734.75,601.83 L735.00,601.85" fill="none" stroke="#985060" stroke-width="1.2" stroke-linejoin="round"/>
<path d="M745.00,602.17 L745.25,602.16 L745.50,602.16 L745.75,602.15 L746.00,602.14 L746.25,602.13 L746.50,602.12 L746.75,602.11 L747.00,602.10 L747.25,602.08 L747.50,602.07 L747.75,602.06 L748.00,602.05 L748.25,602.03 L748.50,602.02 L748.75,602.01 L749.00,601.99 L749.25,601.98 L749.50,601.96 L749.75,601.95 L750.00,601.93 L750.25,601.91 L750.50,601.90 L750.75,601.88 L751.00,601.86 L751.25,601.84 L751.50,601.82 L751.75,601.79 L752.00,601.77 L752.25,601.75 L752.50,601.72 L752.75,601.69 L753.00,601.67 L753.25,601.64 L753.50,601.61 L753.75,601.57 L754.00,601.54 L754.25,601.50 L754.50,601.45 L754.75,601.41 L755.00,601.36 L755.25,601.30 L755.50,601.24 L755.75,601.17 L756.00,601.09 L756.25,600.99 L756.50,600.89 L756.75,600.77 L757.00,600.62 L757.25,600.46 L757.50,600.27 L757.75,600.04 L758.00,599.78 L758.25,599.47 L758.50,599.12 L758.75,598.70 L759.00,598.21 L759.25,597.65 L759.50,596.99 L759.75,596.23 L760.00,595.36 L760.25,594.37 L760.50,593.23 L760.75,591.94 L761.00,590.48 L761.25,588.84 L761.50,587.00 L761.75,584.95 L762.00,582.68 L762.25,580.18 L762.50,577.44 L762.75,574.46 L763.00,571.24 L763.25,567.76 L763.50,564.05 L763.75,560.11 L764.00,555.94 L764.25,551.58 L764.50,547.04 L764.75,542.35 L765.00,537.55 L765.25,532.66 L765.50,527.74 L765.75,522.82 L766.00,517.96 L766.25,513.22 L766.50,508.64 L766.75,504.29 L767.00,500.22 L767.25,496.49 L767.50,493.16 L767.75,490.28 L768.00,487.89 L768.25,486.05 L768.50,484.78 L768.75,484.11 L769.00,484.05 L769.25,484.60 L769.50,485.75 L769.75,487.48 L770.00,489.76 L770.25,492.55 L770.50,495.79 L770.75,499.45 L771.00,503.45 L771.25,507.75 L771.50,512.29 L771.75,517.01 L772.00,521.84 L772.25,526.75 L772.50,531.68 L772.75,536.57 L773.00,541.40 L773.25,546.11 L773.50,550.69 L773.75,555.09 L774.00,559.29 L774.25,563.28 L774.50,567.04 L774.75,570.56 L775.00,573.84 L775.25,576.87 L775.50,579.65 L775.75,582.20 L776.00,584.51 L776.25,586.60 L776.50,588.48 L776.75,590.17 L777.00,591.66 L777.25,592.99 L777.50,594.15 L777.75,595.18 L778.00,596.07 L778.25,596.85 L778.50,597.52 L778.75,598.10 L779.00,598.61 L779.25,599.04 L779.50,599.41 L779.75,599.72 L780.00,599.99 L780.25,600.22 L780.50,600.42 L780.75,600.59 L781.00,600.74 L781.25,600.86 L781.50,600.97 L781.75,601.07 L782.00,601.15 L782.25,601.22 L782.50,601.29 L782.75,601.35 L783.00,601.40 L783.25,601.45 L783.50,601.49 L783.75,601.53 L784.00,601.56 L784.25,601.60 L784.50,601.63 L784.75,601.66 L785.00,601.69 L785.25,601.72 L785.50,601.74 L785.75,601.77 L786.00,601.79 L786.25,601.81 L786.50,601.83 L786.75,601.85 L787.00,601.87 L787.25,601.89 L787.50,601.91 L787.75,601.93 L788.00,601.94 L788.25,601.96 L788.50,601.98 L788.75,601.99 L789.00,602.00 L789.25,602.02 L789.50,602.03 L789.75,602.05 L790.00,602.06 L790.25,602.07 L790.50,602.08 L790.75,602.09 L791.00,602.10 L791.25,602.11 L791.50,602.12 L791.75,602.13 L792.00,602.14 L792.25,602.15 L792.50,602.16 L792.75,602.17 L793.00,602.18 L793.25,602.19 L793.50,602.20 L793.75,602.20 L794.00,602.21 L794.25,602.22 L794.50,602.23 L794.75,602.23 L795.00,602.24 L795.25,602.25 L795.50,602.25 L795.75,602.26 L796.00,602.27 L796.25,602.27 L796.50,602.28 L796.75,602.28 L797.00,602.29 L797.25,602.29 L797.50,602.30 L797.75,602.30 L798.00,602.31 L798.25,602.31 L798.50,602.32 L798.75,602.32 L799.00,602.33 L799.25,602.33 L799.50,602.34 L799.75,602.34 L800.00,602.35" fill="none" stroke="#4a9070" stroke-width="1.2" stroke-linejoin="round"/>
<text x="285.0" y="578.0" font-size="10.3" text-anchor="middle" font-weight="normal" fill="#111" stroke="#111" stroke-width="0.4">(C2)</text>
<text x="285.0" y="592.0" font-size="10.3" text-anchor="middle" font-weight="normal" fill="#111" stroke="#111" stroke-width="0.4">TFA</text>
<text x="373.7" y="458.3" font-size="10.3" text-anchor="middle" font-weight="normal" fill="#111" stroke="#111" stroke-width="0.4">(C1)</text>
<text x="373.7" y="472.8" font-size="10.3" text-anchor="middle" font-weight="normal" fill="#111" stroke="#111" stroke-width="0.4">TFMS</text>
<text x="409.5" y="529.0" font-size="10.3" text-anchor="middle" font-weight="normal" fill="#111" stroke="#111" stroke-width="0.4">(C3)</text>
<text x="409.5" y="543.0" font-size="10.3" text-anchor="middle" font-weight="normal" fill="#111" stroke="#111" stroke-width="0.4">PFPrA</text>
<text x="460.8" y="396.0" font-size="10.3" text-anchor="middle" font-weight="normal" fill="#111" stroke="#111" stroke-width="0.4">(C2)</text>
<text x="460.8" y="410.0" font-size="10.3" text-anchor="middle" font-weight="normal" fill="#111" stroke="#111" stroke-width="0.4">PFEtS</text>
<text x="483.0" y="444.0" font-size="10.3" text-anchor="middle" font-weight="normal" fill="#111" stroke="#111" stroke-width="0.4">(C4)</text>
<text x="483.0" y="458.5" font-size="10.3" text-anchor="middle" font-weight="normal" fill="#111" stroke="#111" stroke-width="0.4">PFBA</text>
<text x="513.0" y="442.5" font-size="10.3" text-anchor="middle" font-weight="normal" fill="#111" stroke="#111" stroke-width="0.4">(C3)</text>
<text x="513.0" y="456.5" font-size="10.3" text-anchor="middle" font-weight="normal" fill="#111" stroke="#111" stroke-width="0.4">PFPrS</text>
<text x="549.3" y="474.3" font-size="10.3" text-anchor="middle" font-weight="normal" fill="#111" stroke="#111" stroke-width="0.4">(C4)</text>
<text x="549.2" y="488.4" font-size="10.3" text-anchor="middle" font-weight="normal" fill="#111" stroke="#111" stroke-width="0.4">PFBS</text>
<text x="537.3" y="515.5" font-size="10.3" text-anchor="middle" font-weight="normal" fill="#111" stroke="#111" stroke-width="0.4">(C5)</text>
<text x="577.5" y="479.2" font-size="10.3" text-anchor="middle" font-weight="normal" fill="#111" stroke="#111" stroke-width="0.4">(C5)</text>
<text x="596.0" y="359.5" font-size="10.3" text-anchor="middle" font-weight="normal" fill="#111" stroke="#111" stroke-width="0.4">(C6)</text>
<text x="596.0" y="374.3" font-size="10.3" text-anchor="middle" font-weight="normal" fill="#111" stroke="#111" stroke-width="0.4">PFHxA</text>
<text x="609.9" y="516.3" font-size="10.3" text-anchor="middle" font-weight="normal" fill="#111" stroke="#111" stroke-width="0.4">(C6)</text>
<text x="625.2" y="533.5" font-size="10.3" text-anchor="middle" font-weight="normal" fill="#111" stroke="#111" stroke-width="0.4">(C7)</text>
<text x="635.0" y="432.0" font-size="10.3" text-anchor="middle" font-weight="normal" fill="#111" stroke="#111" stroke-width="0.4">(C7)</text>
<text x="635.0" y="447.0" font-size="10.3" text-anchor="middle" font-weight="normal" fill="#111" stroke="#111" stroke-width="0.4">PFHpA</text>
<text x="652.4" y="539.5" font-size="10.3" text-anchor="middle" font-weight="normal" fill="#111" stroke="#111" stroke-width="0.4">(C8)</text>
<text x="673.2" y="337.8" font-size="10.3" text-anchor="middle" font-weight="normal" fill="#111" stroke="#111" stroke-width="0.4">(C8)</text>
<text x="673.2" y="352.5" font-size="10.3" text-anchor="middle" font-weight="normal" fill="#111" stroke="#111" stroke-width="0.4">PFOA</text>
<text x="683.0" y="516.3" font-size="10.3" text-anchor="middle" font-weight="normal" fill="#111" stroke="#111" stroke-width="0.4">(C9)</text>
<text x="704.0" y="528.5" font-size="10.3" text-anchor="middle" font-weight="normal" fill="#111" stroke="#111" stroke-width="0.4">(C10)</text>
<text x="715.2" y="320.0" font-size="10.3" text-anchor="middle" font-weight="normal" fill="#111" stroke="#111" stroke-width="0.4">(C9)</text>
<text x="715.2" y="333.8" font-size="10.3" text-anchor="middle" font-weight="normal" fill="#111" stroke="#111" stroke-width="0.4">PFNA</text>
<text x="768.8" y="464.6" font-size="10.3" text-anchor="middle" font-weight="normal" fill="#111" stroke="#111" stroke-width="0.4">(C10)</text>
<text x="768.8" y="478.5" font-size="10.3" text-anchor="middle" font-weight="normal" fill="#111" stroke="#111" stroke-width="0.4">PFDA</text>
<text transform="translate(544.2,544.8) rotate(-90)" font-size="13.2" text-anchor="start" font-weight="normal" fill="#111" textLength="26" lengthAdjust="spacingAndGlyphs" stroke="#111" stroke-width="0.55">PFPeA</text>
<text transform="translate(585.0,507.8) rotate(-90)" font-size="13.2" text-anchor="start" font-weight="normal" fill="#111" textLength="24" lengthAdjust="spacingAndGlyphs" stroke="#111" stroke-width="0.55">PFPeS</text>
<text transform="translate(613.6,545.6) rotate(-90)" font-size="13.2" text-anchor="start" font-weight="normal" fill="#111" textLength="25" lengthAdjust="spacingAndGlyphs" stroke="#111" stroke-width="0.55">PFHxS</text>
<text transform="translate(630.9,562.7) rotate(-90)" font-size="13.2" text-anchor="start" font-weight="normal" fill="#111" textLength="26" lengthAdjust="spacingAndGlyphs" stroke="#111" stroke-width="0.55">PFHpS</text>
<text transform="translate(658.3,564.9) rotate(-90)" font-size="13.2" text-anchor="start" font-weight="normal" fill="#111" textLength="21.3" lengthAdjust="spacingAndGlyphs" stroke="#111" stroke-width="0.55">PFOS</text>
<text transform="translate(687.7,540.6) rotate(-90)" font-size="13.2" text-anchor="start" font-weight="normal" fill="#111" textLength="20.2" lengthAdjust="spacingAndGlyphs" stroke="#111" stroke-width="0.55">PFNS</text>
<text transform="translate(705.9,553.6) rotate(-90)" font-size="13.2" text-anchor="start" font-weight="normal" fill="#111" textLength="20.2" lengthAdjust="spacingAndGlyphs" stroke="#111" stroke-width="0.55">PFDS</text>
<g stroke="#a0a0a0" stroke-width="1.3" fill="none">
<line x1="609.8" y1="606.8" x2="569" y2="639.3"/>
<line x1="645.5" y1="606.8" x2="668.8" y2="638.8"/>
</g>
<path d="M567.8,640.6 L570.2,633.6 L574.3,638.4 Z" fill="#a0a0a0"/>
<path d="M669.8,640.2 L663.7,636.4 L668.9,633.0 Z" fill="#a0a0a0"/>
<rect x="305.6" y="641.4" width="279.19999999999993" height="121.89999999999998" fill="#fff" stroke="#b4b4b4" stroke-width="1.4"/>
<rect x="591.6" y="641.4" width="278.6" height="121.89999999999998" fill="#fff" stroke="#b4b4b4" stroke-width="1.4"/>
<line x1="318.9" y1="749.0" x2="570.3" y2="749.0" stroke="#c9a0a4" stroke-width="1.0"/>
<line x1="318.2" y1="749.4" x2="571" y2="749.4" stroke="#333" stroke-width="1.2" stroke-dasharray="1.4,5.58"/>
<text x="318.9" y="758.6" font-size="8.9" text-anchor="middle" font-weight="normal" fill="#111" stroke="#111" stroke-width="0.3">6.90</text>
<text x="360.8" y="758.6" font-size="8.9" text-anchor="middle" font-weight="normal" fill="#111" stroke="#111" stroke-width="0.3">7.00</text>
<text x="402.7" y="758.6" font-size="8.9" text-anchor="middle" font-weight="normal" fill="#111" stroke="#111" stroke-width="0.3">7.10</text>
<text x="444.6" y="758.6" font-size="8.9" text-anchor="middle" font-weight="normal" fill="#111" stroke="#111" stroke-width="0.3">7.20</text>
<text x="486.5" y="758.6" font-size="8.9" text-anchor="middle" font-weight="normal" fill="#111" stroke="#111" stroke-width="0.3">7.30</text>
<text x="528.4" y="758.6" font-size="8.9" text-anchor="middle" font-weight="normal" fill="#111" stroke="#111" stroke-width="0.3">7.40</text>
<text x="570.3" y="758.6" font-size="8.9" text-anchor="middle" font-weight="normal" fill="#111" stroke="#111" stroke-width="0.3">7.50</text>
<text x="323.2" y="662.2" font-size="14.5" text-anchor="start" font-weight="normal" fill="#111" textLength="43.8" lengthAdjust="spacingAndGlyphs" stroke="#111" stroke-width="0.15">PFHxS</text>
<path d="M318.90,749.00 L319.15,749.00 L319.40,749.00 L319.65,749.00 L319.90,749.00 L320.15,749.00 L320.40,749.00 L320.65,749.00 L320.90,749.00 L321.15,749.00 L321.40,749.00 L321.65,749.00 L321.90,749.00 L322.15,749.00 L322.40,749.00 L322.65,749.00 L322.90,749.00 L323.15,749.00 L323.40,749.00 L323.65,749.00 L323.90,749.00 L324.15,749.00 L324.40,749.00 L324.65,749.00 L324.90,749.00 L325.15,749.00 L325.40,749.00 L325.65,749.00 L325.90,749.00 L326.15,749.00 L326.40,749.00 L326.65,749.00 L326.90,749.00 L327.15,749.00 L327.40,749.00 L327.65,749.00 L327.90,749.00 L328.15,749.00 L328.40,749.00 L328.65,749.00 L328.90,749.00 L329.15,749.00 L329.40,749.00 L329.65,749.00 L329.90,749.00 L330.15,749.00 L330.40,749.00 L330.65,749.00 L330.90,749.00 L331.15,749.00 L331.40,749.00 L331.65,749.00 L331.90,749.00 L332.15,749.00 L332.40,749.00 L332.65,749.00 L332.90,749.00 L333.15,749.00 L333.40,749.00 L333.65,749.00 L333.90,749.00 L334.15,749.00 L334.40,749.00 L334.65,749.00 L334.90,749.00 L335.15,749.00 L335.40,749.00 L335.65,749.00 L335.90,749.00 L336.15,749.00 L336.40,749.00 L336.65,749.00 L336.90,749.00 L337.15,749.00 L337.40,749.00 L337.65,749.00 L337.90,749.00 L338.15,749.00 L338.40,749.00 L338.65,749.00 L338.90,749.00 L339.15,749.00 L339.40,749.00 L339.65,749.00 L339.90,749.00 L340.15,749.00 L340.40,749.00 L340.65,749.00 L340.90,749.00 L341.15,749.00 L341.40,749.00 L341.65,749.00 L341.90,749.00 L342.15,749.00 L342.40,749.00 L342.65,749.00 L342.90,749.00 L343.15,749.00 L343.40,749.00 L343.65,749.00 L343.90,749.00 L344.15,749.00 L344.40,749.00 L344.65,749.00 L344.90,749.00 L345.15,749.00 L345.40,749.00 L345.65,749.00 L345.90,749.00 L346.15,749.00 L346.40,749.00 L346.65,749.00 L346.90,749.00 L347.15,749.00 L347.40,749.00 L347.65,749.00 L347.90,749.00 L348.15,749.00 L348.40,749.00 L348.65,749.00 L348.90,749.00 L349.15,749.00 L349.40,749.00 L349.65,749.00 L349.90,749.00 L350.15,749.00 L350.40,749.00 L350.65,749.00 L350.90,749.00 L351.15,749.00 L351.40,749.00 L351.65,749.00 L351.90,749.00 L352.15,749.00 L352.40,749.00 L352.65,749.00 L352.90,749.00 L353.15,749.00 L353.40,749.00 L353.65,749.00 L353.90,749.00 L354.15,749.00 L354.40,749.00 L354.65,749.00 L354.90,749.00 L355.15,749.00 L355.40,749.00 L355.65,749.00 L355.90,749.00 L356.15,749.00 L356.40,749.00 L356.65,749.00 L356.90,749.00 L357.15,749.00 L357.40,749.00 L357.65,749.00 L357.90,749.00 L358.15,749.00 L358.40,749.00 L358.65,749.00 L358.90,749.00 L359.15,749.00 L359.40,749.00 L359.65,749.00 L359.90,749.00 L360.15,749.00 L360.40,749.00 L360.65,749.00 L360.90,749.00 L361.15,749.00 L361.40,749.00 L361.65,749.00 L361.90,749.00 L362.15,749.00 L362.40,749.00 L362.65,749.00 L362.90,749.00 L363.15,749.00 L363.40,749.00 L363.65,749.00 L363.90,749.00 L364.15,749.00 L364.40,749.00 L364.65,749.00 L364.90,749.00 L365.15,749.00 L365.40,749.00 L365.65,749.00 L365.90,749.00 L366.15,749.00 L366.40,749.00 L366.65,749.00 L366.90,749.00 L367.15,749.00 L367.40,749.00 L367.65,749.00 L367.90,749.00 L368.15,749.00 L368.40,749.00 L368.65,749.00 L368.90,749.00 L369.15,749.00 L369.40,749.00 L369.65,749.00 L369.90,749.00 L370.15,749.00 L370.40,749.00 L370.65,749.00 L370.90,749.00 L371.15,749.00 L371.40,749.00 L371.65,749.00 L371.90,749.00 L372.15,749.00 L372.40,749.00 L372.65,749.00 L372.90,749.00 L373.15,749.00 L373.40,749.00 L373.65,749.00 L373.90,749.00 L374.15,749.00 L374.40,749.00 L374.65,749.00 L374.90,749.00 L375.15,749.00 L375.40,749.00 L375.65,749.00 L375.90,749.00 L376.15,749.00 L376.40,749.00 L376.65,749.00 L376.90,749.00 L377.15,749.00 L377.40,749.00 L377.65,749.00 L377.90,749.00 L378.15,749.00 L378.40,749.00 L378.65,749.00 L378.90,748.99 L379.15,748.99 L379.40,748.99 L379.65,748.99 L379.90,748.99 L380.15,748.99 L380.40,748.99 L380.65,748.98 L380.90,748.98 L381.15,748.98 L381.40,748.97 L381.65,748.97 L381.90,748.97 L382.15,748.96 L382.40,748.95 L382.65,748.95 L382.90,748.94 L383.15,748.93 L383.40,748.92 L383.65,748.91 L383.90,748.90 L384.15,748.88 L384.40,748.87 L384.65,748.85 L384.90,748.83 L385.15,748.81 L385.40,748.78 L385.65,748.75 L385.90,748.72 L386.15,748.69 L386.40,748.65 L386.65,748.61 L386.90,748.56 L387.15,748.51 L387.40,748.46 L387.65,748.39 L387.90,748.33 L388.15,748.26 L388.40,748.18 L388.65,748.09 L388.90,748.00 L389.15,747.90 L389.40,747.80 L389.65,747.68 L389.90,747.56 L390.15,747.43 L390.40,747.29 L390.65,747.14 L390.90,746.98 L391.15,746.81 L391.40,746.63 L391.65,746.45 L391.90,746.25 L392.15,746.04 L392.40,745.82 L392.65,745.59 L392.90,745.35 L393.15,745.11 L393.40,744.85 L393.65,744.58 L393.90,744.30 L394.15,744.02 L394.40,743.72 L394.65,743.42 L394.90,743.11 L395.15,742.80 L395.40,742.48 L395.65,742.15 L395.90,741.82 L396.15,741.49 L396.40,741.15 L396.65,740.81 L396.90,740.47 L397.15,740.13 L397.40,739.79 L397.65,739.46 L397.90,739.13 L398.15,738.80 L398.40,738.48 L398.65,738.16 L398.90,737.85 L399.15,737.55 L399.40,737.25 L399.65,736.97 L399.90,736.70 L400.15,736.43 L400.40,736.18 L400.65,735.94 L400.90,735.72 L401.15,735.50 L401.40,735.30 L401.65,735.12 L401.90,734.94 L402.15,734.77 L402.40,734.61 L402.65,734.45 L402.90,734.30 L403.15,734.15 L403.40,734.01 L403.65,733.87 L403.90,733.74 L404.15,733.61 L404.40,733.49 L404.65,733.38 L404.90,733.26 L405.15,733.16 L405.40,733.06 L405.65,732.97 L405.90,732.88 L406.15,732.80 L406.40,732.72 L406.65,732.65 L406.90,732.59 L407.15,732.53 L407.40,732.48 L407.65,732.43 L407.90,732.40 L408.15,732.37 L408.40,732.35 L408.65,732.33 L408.90,732.33 L409.15,732.33 L409.40,732.34 L409.65,732.37 L409.90,732.40 L410.15,732.44 L410.40,732.49 L410.65,732.55 L410.90,732.62 L411.15,732.70 L411.40,732.79 L411.65,732.89 L411.90,733.01 L412.15,733.13 L412.40,733.27 L412.65,733.42 L412.90,733.58 L413.15,733.74 L413.40,733.93 L413.65,734.12 L413.90,734.33 L414.15,734.55 L414.40,734.78 L414.65,735.03 L414.90,735.28 L415.15,735.55 L415.40,735.83 L415.65,736.12 L415.90,736.41 L416.15,736.72 L416.40,737.03 L416.65,737.35 L416.90,737.68 L417.15,738.01 L417.40,738.35 L417.65,738.69 L417.90,739.03 L418.15,739.38 L418.40,739.72 L418.65,740.07 L418.90,740.41 L419.15,740.75 L419.40,741.09 L419.65,741.43 L419.90,741.76 L420.15,742.09 L420.40,742.41 L420.65,742.73 L420.90,743.04 L421.15,743.34 L421.40,743.64 L421.65,743.93 L421.90,744.21 L422.15,744.48 L422.40,744.74 L422.65,744.99 L422.90,745.23 L423.15,745.47 L423.40,745.69 L423.65,745.91 L423.90,746.11 L424.15,746.31 L424.40,746.49 L424.65,746.67 L424.90,746.83 L425.15,746.99 L425.40,747.14 L425.65,747.28 L425.90,747.41 L426.15,747.54 L426.40,747.65 L426.65,747.76 L426.90,747.86 L427.15,747.95 L427.40,748.04 L427.65,748.12 L427.90,748.19 L428.15,748.26 L428.40,748.32 L428.65,748.38 L428.90,748.43 L429.15,748.47 L429.40,748.51 L429.65,748.55 L429.90,748.58 L430.15,748.61 L430.40,748.63 L430.65,748.65 L430.90,748.66 L431.15,748.67 L431.40,748.68 L431.65,748.68 L431.90,748.68 L432.15,748.68 L432.40,748.67 L432.65,748.66 L432.90,748.65 L433.15,748.63 L433.40,748.61 L433.65,748.58 L433.90,748.55 L434.15,748.52 L434.40,748.48 L434.65,748.44 L434.90,748.39 L435.15,748.33 L435.40,748.27 L435.65,748.21 L435.90,748.14 L436.15,748.06 L436.40,747.97 L436.65,747.88 L436.90,747.77 L437.15,747.66 L437.40,747.54 L437.65,747.41 L437.90,747.27 L438.15,747.12 L438.40,746.96 L438.65,746.78 L438.90,746.60 L439.15,746.39 L439.40,746.18 L439.65,745.94 L439.90,745.69 L440.15,745.43 L440.40,745.14 L440.65,744.84 L440.90,744.52 L441.15,744.17 L441.40,743.81 L441.65,743.42 L441.90,743.01 L442.15,742.57 L442.40,742.11 L442.65,741.62 L442.90,741.10 L443.15,740.55 L443.40,739.98 L443.65,739.37 L443.90,738.73 L444.15,738.06 L444.40,737.36 L444.65,736.62 L444.90,735.84 L445.15,735.03 L445.40,734.18 L445.65,733.30 L445.90,732.37 L446.15,731.41 L446.40,730.41 L446.65,729.37 L446.90,728.29 L447.15,727.17 L447.40,726.01 L447.65,724.81 L447.90,723.57 L448.15,722.28 L448.40,720.96 L448.65,719.60 L448.90,718.20 L449.15,716.77 L449.40,715.29 L449.65,713.78 L449.90,712.23 L450.15,710.65 L450.40,709.04 L450.65,707.40 L450.90,705.73 L451.15,704.03 L451.40,702.30 L451.65,700.55 L451.90,698.78 L452.15,696.99 L452.40,695.19 L452.65,693.37 L452.90,691.55 L453.15,689.71 L453.40,687.87 L453.65,686.03 L453.90,684.19 L454.15,682.36 L454.40,680.53 L454.65,678.72 L454.90,676.92 L455.15,675.14 L455.40,673.39 L455.65,671.66 L455.90,669.97 L456.15,668.30 L456.40,666.68 L456.65,665.10 L456.90,663.56 L457.15,662.07 L457.40,660.63 L457.65,659.25 L457.90,657.93 L458.15,656.67 L458.40,655.48 L458.65,654.36 L458.90,653.30 L459.15,652.32 L459.40,651.42 L459.65,650.59 L459.90,649.85 L460.15,649.19 L460.40,648.61 L460.65,648.12 L460.90,647.72 L461.15,647.41 L461.40,647.18 L461.65,647.05 L461.90,647.00 L462.15,647.04 L462.40,647.15 L462.65,647.34 L462.90,647.60 L463.15,647.94 L463.40,648.35 L463.65,648.83 L463.90,649.38 L464.15,650.01 L464.40,650.70 L464.65,651.46 L464.90,652.28 L465.15,653.17 L465.40,654.12 L465.65,655.13 L465.90,656.20 L466.15,657.32 L466.40,658.50 L466.65,659.73 L466.90,661.00 L467.15,662.33 L467.40,663.69 L467.65,665.10 L467.90,666.54 L468.15,668.02 L468.40,669.53 L468.65,671.07 L468.90,672.64 L469.15,674.23 L469.40,675.84 L469.65,677.47 L469.90,679.11 L470.15,680.77 L470.40,682.44 L470.65,684.11 L470.90,685.79 L471.15,687.47 L471.40,689.15 L471.65,690.83 L471.90,692.50 L472.15,694.16 L472.40,695.82 L472.65,697.46 L472.90,699.09 L473.15,700.71 L473.40,702.30 L473.65,703.88 L473.90,705.43 L474.15,706.97 L474.40,708.47 L474.65,709.96 L474.90,711.41 L475.15,712.84 L475.40,714.24 L475.65,715.61 L475.90,716.96 L476.15,718.26 L476.40,719.54 L476.65,720.79 L476.90,722.00 L477.15,723.18 L477.40,724.33 L477.65,725.44 L477.90,726.52 L478.15,727.56 L478.40,728.58 L478.65,729.56 L478.90,730.50 L479.15,731.41 L479.40,732.29 L479.65,733.14 L479.90,733.96 L480.15,734.74 L480.40,735.49 L480.65,736.22 L480.90,736.91 L481.15,737.57 L481.40,738.21 L481.65,738.82 L481.90,739.40 L482.15,739.95 L482.40,740.48 L482.65,740.98 L482.90,741.46 L483.15,741.92 L483.40,742.35 L483.65,742.76 L483.90,743.15 L484.15,743.52 L484.40,743.87 L484.65,744.21 L484.90,744.52 L485.15,744.81 L485.40,745.09 L485.65,745.36 L485.90,745.60 L486.15,745.84 L486.40,746.06 L486.65,746.26 L486.90,746.46 L487.15,746.64 L487.40,746.81 L487.65,746.97 L487.90,747.12 L488.15,747.26 L488.40,747.39 L488.65,747.51 L488.90,747.62 L489.15,747.73 L489.40,747.83 L489.65,747.92 L489.90,748.01 L490.15,748.09 L490.40,748.16 L490.65,748.23 L490.90,748.29 L491.15,748.35 L491.40,748.40 L491.65,748.45 L491.90,748.50 L492.15,748.54 L492.40,748.58 L492.65,748.62 L492.90,748.65 L493.15,748.68 L493.40,748.71 L493.65,748.74 L493.90,748.76 L494.15,748.78 L494.40,748.80 L494.65,748.82 L494.90,748.84 L495.15,748.85 L495.40,748.87 L495.65,748.88 L495.90,748.89 L496.15,748.90 L496.40,748.91 L496.65,748.92 L496.90,748.93 L497.15,748.93 L497.40,748.94 L497.65,748.95 L497.90,748.95 L498.15,748.96 L498.40,748.96 L498.65,748.97 L498.90,748.97 L499.15,748.97 L499.40,748.97 L499.65,748.98 L499.90,748.98 L500.15,748.98 L500.40,748.98 L500.65,748.99 L500.90,748.99 L501.15,748.99 L501.40,748.99 L501.65,748.99 L501.90,748.99 L502.15,748.99 L502.40,748.99 L502.65,748.99 L502.90,749.00 L503.15,749.00 L503.40,749.00 L503.65,749.00 L503.90,749.00 L504.15,749.00 L504.40,749.00 L504.65,749.00 L504.90,749.00 L505.15,749.00 L505.40,749.00 L505.65,749.00 L505.90,749.00 L506.15,749.00 L506.40,749.00 L506.65,749.00 L506.90,749.00 L507.15,749.00 L507.40,749.00 L507.65,749.00 L507.90,749.00 L508.15,749.00 L508.40,749.00 L508.65,749.00 L508.90,749.00 L509.15,749.00 L509.40,749.00 L509.65,749.00 L509.90,749.00 L510.15,749.00 L510.40,749.00 L510.65,749.00 L510.90,749.00 L511.15,749.00 L511.40,749.00 L511.65,749.00 L511.90,749.00 L512.15,749.00 L512.40,749.00 L512.65,749.00 L512.90,749.00 L513.15,749.00 L513.40,749.00 L513.65,749.00 L513.90,749.00 L514.15,749.00 L514.40,749.00 L514.65,749.00 L514.90,749.00 L515.15,749.00 L515.40,749.00 L515.65,749.00 L515.90,749.00 L516.15,749.00 L516.40,749.00 L516.65,749.00 L516.90,749.00 L517.15,749.00 L517.40,749.00 L517.65,749.00 L517.90,749.00 L518.15,749.00 L518.40,749.00 L518.65,749.00 L518.90,749.00 L519.15,749.00 L519.40,749.00 L519.65,749.00 L519.90,749.00 L520.15,749.00 L520.40,749.00 L520.65,749.00 L520.90,749.00 L521.15,749.00 L521.40,749.00 L521.65,749.00 L521.90,749.00 L522.15,749.00 L522.40,749.00 L522.65,749.00 L522.90,749.00 L523.15,749.00 L523.40,749.00 L523.65,749.00 L523.90,749.00 L524.15,749.00 L524.40,749.00 L524.65,749.00 L524.90,749.00 L525.15,749.00 L525.40,749.00 L525.65,749.00 L525.90,749.00 L526.15,749.00 L526.40,749.00 L526.65,749.00 L526.90,749.00 L527.15,749.00 L527.40,749.00 L527.65,749.00 L527.90,749.00 L528.15,749.00 L528.40,749.00 L528.65,749.00 L528.90,749.00 L529.15,749.00 L529.40,749.00 L529.65,749.00 L529.90,749.00 L530.15,749.00 L530.40,749.00 L530.65,749.00 L530.90,749.00 L531.15,749.00 L531.40,749.00 L531.65,749.00 L531.90,749.00 L532.15,749.00 L532.40,749.00 L532.65,749.00 L532.90,749.00 L533.15,749.00 L533.40,749.00 L533.65,749.00 L533.90,749.00 L534.15,749.00 L534.40,749.00 L534.65,749.00 L534.90,749.00 L535.15,749.00 L535.40,749.00 L535.65,749.00 L535.90,749.00 L536.15,749.00 L536.40,749.00 L536.65,749.00 L536.90,749.00 L537.15,749.00 L537.40,749.00 L537.65,749.00 L537.90,749.00 L538.15,749.00 L538.40,749.00 L538.65,749.00 L538.90,749.00 L539.15,749.00 L539.40,749.00 L539.65,749.00 L539.90,749.00 L540.15,749.00 L540.40,749.00 L540.65,749.00 L540.90,749.00 L541.15,749.00 L541.40,749.00 L541.65,749.00 L541.90,749.00 L542.15,749.00 L542.40,749.00 L542.65,749.00 L542.90,749.00 L543.15,749.00 L543.40,749.00 L543.65,749.00 L543.90,749.00 L544.15,749.00 L544.40,749.00 L544.65,749.00 L544.90,749.00 L545.15,749.00 L545.40,749.00 L545.65,749.00 L545.90,749.00 L546.15,749.00 L546.40,749.00 L546.65,749.00 L546.90,749.00 L547.15,749.00 L547.40,749.00 L547.65,749.00 L547.90,749.00 L548.15,749.00 L548.40,749.00 L548.65,749.00 L548.90,749.00 L549.15,749.00 L549.40,749.00 L549.65,749.00 L549.90,749.00 L550.15,749.00 L550.40,749.00 L550.65,749.00 L550.90,749.00 L551.15,749.00 L551.40,749.00 L551.65,749.00 L551.90,749.00 L552.15,749.00 L552.40,749.00 L552.65,749.00 L552.90,749.00 L553.15,749.00 L553.40,749.00 L553.65,749.00 L553.90,749.00 L554.15,749.00 L554.40,749.00 L554.65,749.00 L554.90,749.00 L555.15,749.00 L555.40,749.00 L555.65,749.00 L555.90,749.00 L556.15,749.00 L556.40,749.00 L556.65,749.00 L556.90,749.00 L557.15,749.00 L557.40,749.00 L557.65,749.00 L557.90,749.00 L558.15,749.00 L558.40,749.00 L558.65,749.00 L558.90,749.00 L559.15,749.00 L559.40,749.00 L559.65,749.00 L559.90,749.00 L560.15,749.00 L560.40,749.00 L560.65,749.00 L560.90,749.00 L561.15,749.00 L561.40,749.00 L561.65,749.00 L561.90,749.00 L562.15,749.00 L562.40,749.00 L562.65,749.00 L562.90,749.00 L563.15,749.00 L563.40,749.00 L563.65,749.00 L563.90,749.00 L564.15,749.00 L564.40,749.00 L564.65,749.00 L564.90,749.00 L565.15,749.00 L565.40,749.00 L565.65,749.00 L565.90,749.00 L566.15,749.00 L566.40,749.00 L566.65,749.00 L566.90,749.00 L567.15,749.00 L567.40,749.00 L567.65,749.00 L567.90,749.00 L568.15,749.00 L568.40,749.00 L568.65,749.00 L568.90,749.00 L569.15,749.00 L569.40,749.00 L569.65,749.00 L569.90,749.00 L570.15,749.00" fill="none" stroke="#c85a62" stroke-width="1.2" stroke-linejoin="round"/>
<line x1="601.2" y1="749.0" x2="857.7" y2="749.0" stroke="#333" stroke-width="0.9" stroke-dasharray="1.2,1.2"/>
<text x="604.2" y="758.6" font-size="8.9" text-anchor="middle" font-weight="normal" fill="#111" stroke="#111" stroke-width="0.3">7.20</text>
<text x="654.9" y="758.6" font-size="8.9" text-anchor="middle" font-weight="normal" fill="#111" stroke="#111" stroke-width="0.3">7.40</text>
<text x="705.6" y="758.6" font-size="8.9" text-anchor="middle" font-weight="normal" fill="#111" stroke="#111" stroke-width="0.3">7.60</text>
<text x="756.3" y="758.6" font-size="8.9" text-anchor="middle" font-weight="normal" fill="#111" stroke="#111" stroke-width="0.3">7.80</text>
<text x="807.0" y="758.6" font-size="8.9" text-anchor="middle" font-weight="normal" fill="#111" stroke="#111" stroke-width="0.3">8.00</text>
<text x="857.7" y="758.6" font-size="8.9" text-anchor="middle" font-weight="normal" fill="#111" stroke="#111" stroke-width="0.3">8.20</text>
<text x="608.0" y="662.2" font-size="14.5" text-anchor="start" font-weight="normal" fill="#111" textLength="36.7" lengthAdjust="spacingAndGlyphs" stroke="#111" stroke-width="0.15">PFOS</text>
<path d="M601.20,748.50 L601.45,748.50 L601.70,748.50 L601.95,748.50 L602.20,748.50 L602.45,748.50 L602.70,748.50 L602.95,748.50 L603.20,748.50 L603.45,748.50 L603.70,748.50 L603.95,748.50 L604.20,748.50 L604.45,748.50 L604.70,748.50 L604.95,748.50 L605.20,748.50 L605.45,748.50 L605.70,748.50 L605.95,748.50 L606.20,748.50 L606.45,748.50 L606.70,748.50 L606.95,748.50 L607.20,748.50 L607.45,748.50 L607.70,748.50 L607.95,748.50 L608.20,748.50 L608.45,748.50 L608.70,748.50 L608.95,748.50 L609.20,748.50 L609.45,748.50 L609.70,748.50 L609.95,748.50 L610.20,748.50 L610.45,748.50 L610.70,748.50 L610.95,748.50 L611.20,748.50 L611.45,748.50 L611.70,748.50 L611.95,748.50 L612.20,748.50 L612.45,748.50 L612.70,748.50 L612.95,748.50 L613.20,748.50 L613.45,748.50 L613.70,748.50 L613.95,748.50 L614.20,748.50 L614.45,748.50 L614.70,748.50 L614.95,748.50 L615.20,748.50 L615.45,748.50 L615.70,748.50 L615.95,748.50 L616.20,748.50 L616.45,748.50 L616.70,748.50 L616.95,748.50 L617.20,748.50 L617.45,748.50 L617.70,748.50 L617.95,748.50 L618.20,748.50 L618.45,748.50 L618.70,748.50 L618.95,748.50 L619.20,748.50 L619.45,748.50 L619.70,748.50 L619.95,748.50 L620.20,748.50 L620.45,748.50 L620.70,748.50 L620.95,748.50 L621.20,748.50 L621.45,748.50 L621.70,748.50 L621.95,748.50 L622.20,748.50 L622.45,748.50 L622.70,748.50 L622.95,748.50 L623.20,748.50 L623.45,748.50 L623.70,748.50 L623.95,748.50 L624.20,748.50 L624.45,748.50 L624.70,748.50 L624.95,748.50 L625.20,748.50 L625.45,748.50 L625.70,748.50 L625.95,748.50 L626.20,748.50 L626.45,748.50 L626.70,748.50 L626.95,748.50 L627.20,748.50 L627.45,748.50 L627.70,748.50 L627.95,748.50 L628.20,748.50 L628.45,748.50 L628.70,748.50 L628.95,748.50 L629.20,748.50 L629.45,748.50 L629.70,748.50 L629.95,748.50 L630.20,748.50 L630.45,748.50 L630.70,748.50 L630.95,748.50 L631.20,748.50 L631.45,748.50 L631.70,748.50 L631.95,748.50 L632.20,748.50 L632.45,748.50 L632.70,748.50 L632.95,748.50 L633.20,748.50 L633.45,748.50 L633.70,748.50 L633.95,748.50 L634.20,748.50 L634.45,748.50 L634.70,748.50 L634.95,748.50 L635.20,748.50 L635.45,748.50 L635.70,748.50 L635.95,748.50 L636.20,748.50 L636.45,748.50 L636.70,748.50 L636.95,748.50 L637.20,748.50 L637.45,748.50 L637.70,748.50 L637.95,748.50 L638.20,748.50 L638.45,748.50 L638.70,748.50 L638.95,748.50 L639.20,748.50 L639.45,748.50 L639.70,748.50 L639.95,748.50 L640.20,748.50 L640.45,748.50 L640.70,748.50 L640.95,748.50 L641.20,748.50 L641.45,748.50 L641.70,748.50 L641.95,748.50 L642.20,748.50 L642.45,748.50 L642.70,748.50 L642.95,748.50 L643.20,748.50 L643.45,748.50 L643.70,748.50 L643.95,748.50 L644.20,748.50 L644.45,748.50 L644.70,748.50 L644.95,748.50 L645.20,748.50 L645.45,748.50 L645.70,748.50 L645.95,748.50 L646.20,748.50 L646.45,748.50 L646.70,748.50 L646.95,748.50 L647.20,748.50 L647.45,748.50 L647.70,748.50 L647.95,748.50 L648.20,748.50 L648.45,748.50 L648.70,748.50 L648.95,748.50 L649.20,748.50 L649.45,748.50 L649.70,748.50 L649.95,748.50 L650.20,748.50 L650.45,748.50 L650.70,748.50 L650.95,748.50 L651.20,748.50 L651.45,748.50 L651.70,748.50 L651.95,748.50 L652.20,748.50 L652.45,748.50 L652.70,748.50 L652.95,748.50 L653.20,748.50 L653.45,748.50 L653.70,748.50 L653.95,748.50 L654.20,748.50 L654.45,748.50 L654.70,748.50 L654.95,748.50 L655.20,748.50 L655.45,748.50 L655.70,748.50 L655.95,748.50 L656.20,748.50 L656.45,748.50 L656.70,748.50 L656.95,748.50 L657.20,748.50 L657.45,748.50 L657.70,748.50 L657.95,748.50 L658.20,748.50 L658.45,748.50 L658.70,748.50 L658.95,748.50 L659.20,748.50 L659.45,748.50 L659.70,748.50 L659.95,748.50 L660.20,748.50 L660.45,748.50 L660.70,748.49 L660.95,748.49 L661.20,748.49 L661.45,748.49 L661.70,748.49 L661.95,748.49 L662.20,748.49 L662.45,748.48 L662.70,748.48 L662.95,748.48 L663.20,748.47 L663.45,748.47 L663.70,748.47 L663.95,748.46 L664.20,748.45 L664.45,748.45 L664.70,748.44 L664.95,748.43 L665.20,748.42 L665.45,748.41 L665.70,748.39 L665.95,748.38 L666.20,748.36 L666.45,748.35 L666.70,748.33 L666.95,748.31 L667.20,748.28 L667.45,748.26 L667.70,748.23 L667.95,748.20 L668.20,748.16 L668.45,748.13 L668.70,748.09 L668.95,748.05 L669.20,748.00 L669.45,747.95 L669.70,747.90 L669.95,747.84 L670.20,747.79 L670.45,747.72 L670.70,747.66 L670.95,747.59 L671.20,747.52 L671.45,747.44 L671.70,747.36 L671.95,747.28 L672.20,747.20 L672.45,747.11 L672.70,747.02 L672.95,746.93 L673.20,746.84 L673.45,746.75 L673.70,746.66 L673.95,746.56 L674.20,746.47 L674.45,746.38 L674.70,746.28 L674.95,746.19 L675.20,746.11 L675.45,746.02 L675.70,745.94 L675.95,745.86 L676.20,745.78 L676.45,745.71 L676.70,745.65 L676.95,745.59 L677.20,745.53 L677.45,745.49 L677.70,745.45 L677.95,745.41 L678.20,745.39 L678.45,745.37 L678.70,745.35 L678.95,745.35 L679.20,745.35 L679.45,745.36 L679.70,745.36 L679.95,745.38 L680.20,745.39 L680.45,745.41 L680.70,745.43 L680.95,745.46 L681.20,745.48 L681.45,745.51 L681.70,745.55 L681.95,745.58 L682.20,745.62 L682.45,745.66 L682.70,745.71 L682.95,745.75 L683.20,745.80 L683.45,745.84 L683.70,745.89 L683.95,745.94 L684.20,745.99 L684.45,746.04 L684.70,746.09 L684.95,746.14 L685.20,746.18 L685.45,746.23 L685.70,746.27 L685.95,746.31 L686.20,746.35 L686.45,746.38 L686.70,746.41 L686.95,746.43 L687.20,746.44 L687.45,746.45 L687.70,746.45 L687.95,746.45 L688.20,746.43 L688.45,746.40 L688.70,746.36 L688.95,746.31 L689.20,746.25 L689.45,746.17 L689.70,746.07 L689.95,745.96 L690.20,745.83 L690.45,745.69 L690.70,745.52 L690.95,745.33 L691.20,745.13 L691.45,744.90 L691.70,744.65 L691.95,744.37 L692.20,744.08 L692.45,743.76 L692.70,743.41 L692.95,743.05 L693.20,742.66 L693.45,742.25 L693.70,741.81 L693.95,741.36 L694.20,740.89 L694.45,740.40 L694.70,739.89 L694.95,739.37 L695.20,738.84 L695.45,738.29 L695.70,737.74 L695.95,737.19 L696.20,736.63 L696.45,736.08 L696.70,735.53 L696.95,734.98 L697.20,734.45 L697.45,733.94 L697.70,733.44 L697.95,732.96 L698.20,732.51 L698.45,732.08 L698.70,731.68 L698.95,731.32 L699.20,730.99 L699.45,730.70 L699.70,730.45 L699.95,730.23 L700.20,730.06 L700.45,729.93 L700.70,729.84 L700.95,729.80 L701.20,729.80 L701.45,729.83 L701.70,729.91 L701.95,730.02 L702.20,730.17 L702.45,730.36 L702.70,730.57 L702.95,730.82 L703.20,731.09 L703.45,731.38 L703.70,731.70 L703.95,732.03 L704.20,732.37 L704.45,732.72 L704.70,733.08 L704.95,733.44 L705.20,733.80 L705.45,734.16 L705.70,734.52 L705.95,734.86 L706.20,735.19 L706.45,735.51 L706.70,735.82 L706.95,736.11 L707.20,736.38 L707.45,736.63 L707.70,736.86 L707.95,737.07 L708.20,737.26 L708.45,737.42 L708.70,737.57 L708.95,737.70 L709.20,737.80 L709.45,737.89 L709.70,737.96 L709.95,738.01 L710.20,738.04 L710.45,738.06 L710.70,738.07 L710.95,738.06 L711.20,738.04 L711.45,738.01 L711.70,737.98 L711.95,737.93 L712.20,737.88 L712.45,737.83 L712.70,737.77 L712.95,737.71 L713.20,737.65 L713.45,737.59 L713.70,737.52 L713.95,737.48 L714.20,737.47 L714.45,737.51 L714.70,737.58 L714.95,737.69 L715.20,737.83 L715.45,737.99 L715.70,738.18 L715.95,738.38 L716.20,738.60 L716.45,738.81 L716.70,739.02 L716.95,739.23 L717.20,739.42 L717.45,739.60 L717.70,739.75 L717.95,739.88 L718.20,739.98 L718.45,740.05 L718.70,740.08 L718.95,740.09 L719.20,740.06 L719.45,740.00 L719.70,739.91 L719.95,739.79 L720.20,739.64 L720.45,739.47 L720.70,739.28 L720.95,739.06 L721.20,738.83 L721.45,738.58 L721.70,738.31 L721.95,738.04 L722.20,737.76 L722.45,737.48 L722.70,737.19 L722.95,736.90 L723.20,736.61 L723.45,736.33 L723.70,736.05 L723.95,735.78 L724.20,735.52 L724.45,735.26 L724.70,735.02 L724.95,734.79 L725.20,734.58 L725.45,734.38 L725.70,734.20 L725.95,734.03 L726.20,733.88 L726.45,733.75 L726.70,733.64 L726.95,733.55 L727.20,733.47 L727.45,733.42 L727.70,733.39 L727.95,733.38 L728.20,733.40 L728.45,733.45 L728.70,733.54 L728.95,733.67 L729.20,733.84 L729.45,734.03 L729.70,734.26 L729.95,734.53 L730.20,734.82 L730.45,735.14 L730.70,735.48 L730.95,735.85 L731.20,736.23 L731.45,736.64 L731.70,737.06 L731.95,737.49 L732.20,737.93 L732.45,738.38 L732.70,738.84 L732.95,739.29 L733.20,739.75 L733.45,740.21 L733.70,740.66 L733.95,741.10 L734.20,741.54 L734.45,741.97 L734.70,742.38 L734.95,742.79 L735.20,743.18 L735.45,743.55 L735.70,743.92 L735.95,744.26 L736.20,744.59 L736.45,744.90 L736.70,745.20 L736.95,745.48 L737.20,745.74 L737.45,745.98 L737.70,746.21 L737.95,746.43 L738.20,746.62 L738.45,746.81 L738.70,746.98 L738.95,747.13 L739.20,747.27 L739.45,747.40 L739.70,747.52 L739.95,747.62 L740.20,747.72 L740.45,747.80 L740.70,747.88 L740.95,747.95 L741.20,748.00 L741.45,748.05 L741.70,748.10 L741.95,748.13 L742.20,748.16 L742.45,748.18 L742.70,748.19 L742.95,748.20 L743.20,748.20 L743.45,748.19 L743.70,748.18 L743.95,748.15 L744.20,748.12 L744.45,748.08 L744.70,748.03 L744.95,747.97 L745.20,747.89 L745.45,747.81 L745.70,747.70 L745.95,747.59 L746.20,747.45 L746.45,747.29 L746.70,747.12 L746.95,746.91 L747.20,746.68 L747.45,746.43 L747.70,746.13 L747.95,745.81 L748.20,745.44 L748.45,745.03 L748.70,744.58 L748.95,744.08 L749.20,743.52 L749.45,742.91 L749.70,742.23 L749.95,741.50 L750.20,740.69 L750.45,739.80 L750.70,738.84 L750.95,737.80 L751.20,736.68 L751.45,735.46 L751.70,734.16 L751.95,732.76 L752.20,731.26 L752.45,729.67 L752.70,727.97 L752.95,726.17 L753.20,724.27 L753.45,722.28 L753.70,720.18 L753.95,717.98 L754.20,715.69 L754.45,713.31 L754.70,710.85 L754.95,708.30 L755.20,705.68 L755.45,703.00 L755.70,700.26 L755.95,697.47 L756.20,694.65 L756.45,691.80 L756.70,688.94 L756.95,686.08 L757.20,683.23 L757.45,680.41 L757.70,677.63 L757.95,674.91 L758.20,672.26 L758.45,669.70 L758.70,667.24 L758.95,664.90 L759.20,662.68 L759.45,660.62 L759.70,658.71 L759.95,656.97 L760.20,655.41 L760.45,654.04 L760.70,652.88 L760.95,651.93 L761.20,651.19 L761.45,650.67 L761.70,650.37 L761.95,650.30 L762.20,650.45 L762.45,650.79 L762.70,651.33 L762.95,652.07 L763.20,653.01 L763.45,654.12 L763.70,655.42 L763.95,656.89 L764.20,658.52 L764.45,660.31 L764.70,662.24 L764.95,664.30 L765.20,666.48 L765.45,668.77 L765.70,671.15 L765.95,673.62 L766.20,676.16 L766.45,678.76 L766.70,681.40 L766.95,684.08 L767.20,686.77 L767.45,689.48 L767.70,692.18 L767.95,694.88 L768.20,697.54 L768.45,700.18 L768.70,702.77 L768.95,705.32 L769.20,707.80 L769.45,710.22 L769.70,712.58 L769.95,714.85 L770.20,717.05 L770.45,719.17 L770.70,721.20 L770.95,723.14 L771.20,724.99 L771.45,726.75 L771.70,728.42 L771.95,730.00 L772.20,731.50 L772.45,732.90 L772.70,734.22 L772.95,735.45 L773.20,736.60 L773.45,737.67 L773.70,738.67 L773.95,739.59 L774.20,740.44 L774.45,741.23 L774.70,741.95 L774.95,742.62 L775.20,743.22 L775.45,743.78 L775.70,744.28 L775.95,744.74 L776.20,745.16 L776.45,745.53 L776.70,745.87 L776.95,746.18 L777.20,746.45 L777.45,746.70 L777.70,746.91 L777.95,747.11 L778.20,747.28 L778.45,747.44 L778.70,747.58 L778.95,747.70 L779.20,747.80 L779.45,747.90 L779.70,747.98 L779.95,748.05 L780.20,748.11 L780.45,748.17 L780.70,748.21 L780.95,748.26 L781.20,748.29 L781.45,748.32 L781.70,748.35 L781.95,748.37 L782.20,748.39 L782.45,748.41 L782.70,748.42 L782.95,748.44 L783.20,748.45 L783.45,748.45 L783.70,748.46 L783.95,748.47 L784.20,748.47 L784.45,748.48 L784.70,748.48 L784.95,748.48 L785.20,748.49 L785.45,748.49 L785.70,748.49 L785.95,748.49 L786.20,748.49 L786.45,748.50 L786.70,748.50 L786.95,748.50 L787.20,748.50 L787.45,748.50 L787.70,748.50 L787.95,748.50 L788.20,748.50 L788.45,748.50 L788.70,748.50 L788.95,748.50 L789.20,748.50 L789.45,748.50 L789.70,748.50 L789.95,748.50 L790.20,748.50 L790.45,748.50 L790.70,748.50 L790.95,748.50 L791.20,748.50 L791.45,748.50 L791.70,748.50 L791.95,748.50 L792.20,748.50 L792.45,748.50 L792.70,748.50 L792.95,748.50 L793.20,748.50 L793.45,748.50 L793.70,748.50 L793.95,748.50 L794.20,748.50 L794.45,748.50 L794.70,748.50 L794.95,748.50 L795.20,748.50 L795.45,748.50 L795.70,748.50 L795.95,748.50 L796.20,748.50 L796.45,748.50 L796.70,748.50 L796.95,748.50 L797.20,748.50 L797.45,748.50 L797.70,748.50 L797.95,748.50 L798.20,748.50 L798.45,748.50 L798.70,748.50 L798.95,748.50 L799.20,748.50 L799.45,748.50 L799.70,748.50 L799.95,748.50 L800.20,748.50 L800.45,748.50 L800.70,748.50 L800.95,748.50 L801.20,748.50 L801.45,748.50 L801.70,748.50 L801.95,748.50 L802.20,748.50 L802.45,748.50 L802.70,748.50 L802.95,748.50 L803.20,748.50 L803.45,748.50 L803.70,748.50 L803.95,748.50 L804.20,748.50 L804.45,748.50 L804.70,748.50 L804.95,748.50 L805.20,748.50 L805.45,748.50 L805.70,748.50 L805.95,748.50 L806.20,748.50 L806.45,748.50 L806.70,748.50 L806.95,748.50 L807.20,748.50 L807.45,748.50 L807.70,748.50 L807.95,748.50 L808.20,748.50 L808.45,748.50 L808.70,748.50 L808.95,748.50 L809.20,748.50 L809.45,748.50 L809.70,748.50 L809.95,748.50 L810.20,748.50 L810.45,748.50 L810.70,748.50 L810.95,748.50 L811.20,748.50 L811.45,748.50 L811.70,748.50 L811.95,748.50 L812.20,748.50 L812.45,748.50 L812.70,748.50 L812.95,748.50 L813.20,748.50 L813.45,748.50 L813.70,748.50 L813.95,748.50 L814.20,748.50 L814.45,748.50 L814.70,748.50 L814.95,748.50 L815.20,748.50 L815.45,748.50 L815.70,748.50 L815.95,748.50 L816.20,748.50 L816.45,748.50 L816.70,748.50 L816.95,748.50 L817.20,748.50 L817.45,748.50 L817.70,748.50 L817.95,748.50 L818.20,748.50 L818.45,748.50 L818.70,748.50 L818.95,748.50 L819.20,748.50 L819.45,748.50 L819.70,748.50 L819.95,748.50 L820.20,748.50 L820.45,748.50 L820.70,748.50 L820.95,748.50 L821.20,748.50 L821.45,748.50 L821.70,748.50 L821.95,748.50 L822.20,748.50 L822.45,748.50 L822.70,748.50 L822.95,748.50 L823.20,748.50 L823.45,748.50 L823.70,748.50 L823.95,748.50 L824.20,748.50 L824.45,748.50 L824.70,748.50 L824.95,748.50 L825.20,748.50 L825.45,748.50 L825.70,748.50 L825.95,748.50 L826.20,748.50 L826.45,748.50 L826.70,748.50 L826.95,748.50 L827.20,748.50 L827.45,748.50 L827.70,748.50 L827.95,748.50 L828.20,748.50 L828.45,748.50 L828.70,748.50 L828.95,748.50 L829.20,748.50 L829.45,748.50 L829.70,748.50 L829.95,748.50 L830.20,748.50 L830.45,748.50 L830.70,748.50 L830.95,748.50 L831.20,748.50 L831.45,748.50 L831.70,748.50 L831.95,748.50 L832.20,748.50 L832.45,748.50 L832.70,748.50 L832.95,748.50 L833.20,748.50 L833.45,748.50 L833.70,748.50 L833.95,748.50 L834.20,748.50 L834.45,748.50 L834.70,748.50 L834.95,748.50 L835.20,748.50 L835.45,748.50 L835.70,748.50 L835.95,748.50 L836.20,748.50 L836.45,748.50 L836.70,748.50 L836.95,748.50 L837.20,748.50 L837.45,748.50 L837.70,748.50 L837.95,748.50 L838.20,748.50 L838.45,748.50 L838.70,748.50 L838.95,748.50 L839.20,748.50 L839.45,748.50 L839.70,748.50 L839.95,748.50 L840.20,748.50 L840.45,748.50 L840.70,748.50 L840.95,748.50 L841.20,748.50 L841.45,748.50 L841.70,748.50 L841.95,748.50 L842.20,748.50 L842.45,748.50 L842.70,748.50 L842.95,748.50 L843.20,748.50 L843.45,748.50 L843.70,748.50 L843.95,748.50 L844.20,748.50 L844.45,748.50 L844.70,748.50 L844.95,748.50 L845.20,748.50 L845.45,748.50 L845.70,748.50 L845.95,748.50 L846.20,748.50 L846.45,748.50 L846.70,748.50 L846.95,748.50 L847.20,748.50 L847.45,748.50 L847.70,748.50 L847.95,748.50 L848.20,748.50 L848.45,748.50 L848.70,748.50 L848.95,748.50 L849.20,748.50 L849.45,748.50 L849.70,748.50 L849.95,748.50 L850.20,748.50 L850.45,748.50 L850.70,748.50 L850.95,748.50 L851.20,748.50 L851.45,748.50 L851.70,748.50 L851.95,748.50 L852.20,748.50 L852.45,748.50 L852.70,748.50 L852.95,748.50 L853.20,748.50 L853.45,748.50 L853.70,748.50 L853.95,748.50 L854.20,748.50 L854.45,748.50 L854.70,748.50 L854.95,748.50 L855.20,748.50 L855.45,748.50 L855.70,748.50 L855.95,748.50 L856.20,748.50 L856.45,748.50 L856.70,748.50 L856.95,748.50 L857.20,748.50 L857.45,748.50 L857.70,748.50" fill="none" stroke="#c85a62" stroke-width="1.2" stroke-linejoin="round"/>
<rect x="63.6" y="17.5" width="128.8" height="231.5" fill="none" stroke="#c8161d" stroke-width="1.4"/>
<polyline points="130.4,27.6 116.8,34.1 130.4,40.6 116.8,47.2 130.4,53.7 116.8,60.2 130.4,66.7 116.8,73.2 130.4,79.8 116.8,86.3 122.5,91.0" fill="none" stroke="#7a7a7a" stroke-width="2.3" stroke-linejoin="miter"/>
<polyline points="119.5,109.0 116.8,112.3 130.4,118.7 116.9,125.3 130.4,131.7 116.9,138.4 125,144.5" fill="none" stroke="#7a7a7a" stroke-width="2.3"/>
<ellipse cx="124.3" cy="99.6" rx="12.2" ry="9.6" fill="#1c1c1c" stroke="#6a6a6a" stroke-width="1.6"/>
<text x="124.8" y="105.2" font-size="15" fill="#fff" text-anchor="middle" stroke="#fff" stroke-width="0.2">P</text>
<text x="84.6" y="155.8" font-size="12.2" fill="#3a3a3a">CH<tspan font-size="7" dy="2.2">3</tspan></text>
<text x="119.4" y="155.8" font-size="12.2" fill="#3a3a3a">Si</text>
<text x="143.6" y="155.8" font-size="12.2" fill="#3a3a3a">CH<tspan font-size="7" dy="2.2">3</tspan></text>
<g stroke="#666" stroke-width="1.8"><line x1="106.6" y1="152.1" x2="118" y2="152.1"/><line x1="131.6" y1="152.1" x2="143" y2="152.1"/>
<line x1="124.4" y1="159" x2="124.4" y2="169.6"/><line x1="124.4" y1="182" x2="124.4" y2="192"/></g>
<text x="124.4" y="179.8" font-size="11.5" fill="#3a3a3a" text-anchor="middle">O</text>
<defs><radialGradient id="sg" cx="0.5" cy="0.47" r="0.55"><stop offset="0" stop-color="#ffffff"/><stop offset="0.35" stop-color="#c9dbf4"/><stop offset="1" stop-color="#7ea3da"/></radialGradient></defs>
<ellipse cx="124.8" cy="214" rx="26.5" ry="24.8" fill="url(#sg)" stroke="#7c7c7c" stroke-width="3"/>
</svg>
</body></html>
